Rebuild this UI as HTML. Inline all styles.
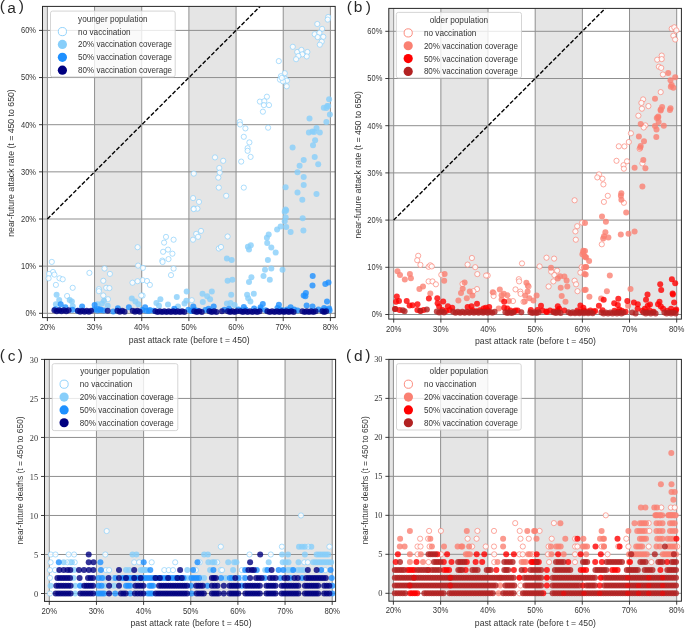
<!DOCTYPE html>
<html><head><meta charset="utf-8"><style>
html,body{margin:0;padding:0;background:#fff;}
svg{display:block;will-change:transform;}
</style></head><body>
<svg width="685" height="628" viewBox="0 0 685 628">
<rect width="685" height="628" fill="#fff"/>
<rect x="42.5" y="6.4" width="4.9" height="307.4" fill="#e5e5e5"/>
<rect x="94.57" y="6.4" width="47.17" height="307.4" fill="#e5e5e5"/>
<rect x="188.9" y="6.4" width="47.17" height="307.4" fill="#e5e5e5"/>
<rect x="283.23" y="6.4" width="47.17" height="307.4" fill="#e5e5e5"/>
<line x1="47.4" y1="6.4" x2="47.4" y2="317.6" stroke="#8f8f8f" stroke-width="1"/>
<line x1="94.57" y1="6.4" x2="94.57" y2="317.6" stroke="#8f8f8f" stroke-width="1"/>
<line x1="141.73" y1="6.4" x2="141.73" y2="317.6" stroke="#8f8f8f" stroke-width="1"/>
<line x1="188.9" y1="6.4" x2="188.9" y2="317.6" stroke="#8f8f8f" stroke-width="1"/>
<line x1="236.07" y1="6.4" x2="236.07" y2="317.6" stroke="#8f8f8f" stroke-width="1"/>
<line x1="283.23" y1="6.4" x2="283.23" y2="317.6" stroke="#8f8f8f" stroke-width="1"/>
<line x1="330.4" y1="6.4" x2="330.4" y2="317.6" stroke="#8f8f8f" stroke-width="1"/>
<line x1="42.5" y1="313.3" x2="335.2" y2="313.3" stroke="#8f8f8f" stroke-width="1"/>
<line x1="42.5" y1="266.15" x2="335.2" y2="266.15" stroke="#8f8f8f" stroke-width="1"/>
<line x1="42.5" y1="219" x2="335.2" y2="219" stroke="#8f8f8f" stroke-width="1"/>
<line x1="42.5" y1="171.85" x2="335.2" y2="171.85" stroke="#8f8f8f" stroke-width="1"/>
<line x1="42.5" y1="124.7" x2="335.2" y2="124.7" stroke="#8f8f8f" stroke-width="1"/>
<line x1="42.5" y1="77.55" x2="335.2" y2="77.55" stroke="#8f8f8f" stroke-width="1"/>
<line x1="42.5" y1="30.4" x2="335.2" y2="30.4" stroke="#8f8f8f" stroke-width="1"/>
<line x1="47.4" y1="219" x2="260.08" y2="6.4" stroke="#000" stroke-width="1.4" stroke-dasharray="4.2 1.9"/>
<g id="ptsa"></g>
<g fill="#fff" fill-opacity="0.85" stroke="#87CEFA" stroke-opacity="0.85" stroke-width="0.8"><circle cx="328.2" cy="17" r="2.6"/><circle cx="327.7" cy="19.6" r="2.6"/><circle cx="317.3" cy="24" r="2.6"/><circle cx="322.1" cy="28.9" r="2.6"/><circle cx="314.7" cy="34.2" r="2.6"/><circle cx="319.4" cy="32.9" r="2.6"/><circle cx="317.7" cy="37.1" r="2.6"/><circle cx="323.3" cy="36.8" r="2.6"/><circle cx="321.7" cy="41.7" r="2.6"/><circle cx="319.8" cy="44.7" r="2.6"/><circle cx="292.8" cy="46.8" r="2.6"/><circle cx="297.2" cy="52" r="2.6"/><circle cx="301.4" cy="49.9" r="2.6"/><circle cx="307.4" cy="52" r="2.6"/><circle cx="306.7" cy="56.4" r="2.6"/><circle cx="302.3" cy="54.3" r="2.6"/><circle cx="298.4" cy="56" r="2.6"/><circle cx="296.1" cy="59.2" r="2.6"/><circle cx="278.8" cy="61.1" r="2.6"/><circle cx="284.8" cy="73.2" r="2.6"/><circle cx="280.9" cy="76.2" r="2.6"/><circle cx="280" cy="79.7" r="2.6"/><circle cx="285.3" cy="78.8" r="2.6"/><circle cx="287" cy="80.6" r="2.6"/><circle cx="283" cy="81.4" r="2.6"/><circle cx="281.8" cy="77.9" r="2.6"/><circle cx="286.7" cy="86.3" r="2.6"/><circle cx="266.9" cy="96.7" r="2.6"/><circle cx="259.9" cy="101.6" r="2.6"/><circle cx="264.3" cy="101.2" r="2.6"/><circle cx="263.9" cy="105.1" r="2.6"/><circle cx="269" cy="105.1" r="2.6"/><circle cx="262.9" cy="111.7" r="2.6"/><circle cx="239.8" cy="121.9" r="2.6"/><circle cx="240.1" cy="124.5" r="2.6"/><circle cx="245.4" cy="128.4" r="2.6"/><circle cx="268.1" cy="127.7" r="2.6"/><circle cx="243.8" cy="136.8" r="2.6"/><circle cx="249.4" cy="142.4" r="2.6"/><circle cx="247.6" cy="148.2" r="2.6"/><circle cx="247.6" cy="150.8" r="2.6"/><circle cx="250.6" cy="156.9" r="2.6"/><circle cx="241.2" cy="161.6" r="2.6"/><circle cx="243.8" cy="187.6" r="2.6"/><circle cx="215" cy="157.4" r="2.6"/><circle cx="223.2" cy="160.8" r="2.6"/><circle cx="219.3" cy="168" r="2.6"/><circle cx="219.7" cy="172.7" r="2.6"/><circle cx="218.3" cy="177.6" r="2.6"/><circle cx="218.8" cy="187.6" r="2.6"/><circle cx="226.2" cy="195.8" r="2.6"/><circle cx="193.8" cy="173.6" r="2.6"/><circle cx="193.1" cy="198.1" r="2.6"/><circle cx="199" cy="201.9" r="2.6"/><circle cx="193.8" cy="208.6" r="2.6"/><circle cx="197.4" cy="208.6" r="2.6"/><circle cx="193.7" cy="209.1" r="2.6"/><circle cx="201" cy="230.9" r="2.6"/><circle cx="196.2" cy="233.9" r="2.6"/><circle cx="198.1" cy="236.8" r="2.6"/><circle cx="193" cy="239.7" r="2.6"/><circle cx="227.6" cy="236.5" r="2.6"/><circle cx="218.8" cy="248.5" r="2.6"/><circle cx="221" cy="247" r="2.6"/><circle cx="166" cy="236.9" r="2.6"/><circle cx="173.6" cy="239.7" r="2.6"/><circle cx="164.1" cy="242.6" r="2.6"/><circle cx="168" cy="249.6" r="2.6"/><circle cx="163.1" cy="251.8" r="2.6"/><circle cx="172.4" cy="253.7" r="2.6"/><circle cx="168.5" cy="259.1" r="2.6"/><circle cx="162.3" cy="260.6" r="2.6"/><circle cx="142.9" cy="267.9" r="2.6"/><circle cx="173.6" cy="268.6" r="2.6"/><circle cx="171" cy="275.1" r="2.6"/><circle cx="142.6" cy="280.2" r="2.6"/><circle cx="147" cy="281" r="2.6"/><circle cx="149.9" cy="284.9" r="2.6"/><circle cx="142.6" cy="295.6" r="2.6"/><circle cx="191.8" cy="300.2" r="2.6"/><circle cx="162.6" cy="262" r="2.6"/><circle cx="51.8" cy="261.9" r="2.6"/><circle cx="53" cy="272" r="2.6"/><circle cx="49" cy="273.9" r="2.6"/><circle cx="54.4" cy="274.6" r="2.6"/><circle cx="48.6" cy="278.3" r="2.6"/><circle cx="59.5" cy="278.3" r="2.6"/><circle cx="62.7" cy="279.3" r="2.6"/><circle cx="55.9" cy="284.9" r="2.6"/><circle cx="72.7" cy="287.8" r="2.6"/><circle cx="89.4" cy="272.9" r="2.6"/><circle cx="104.5" cy="268.5" r="2.6"/><circle cx="109.9" cy="273.9" r="2.6"/><circle cx="103.3" cy="280.8" r="2.6"/><circle cx="106.2" cy="287.8" r="2.6"/><circle cx="109.4" cy="288.1" r="2.6"/><circle cx="98.9" cy="289.2" r="2.6"/><circle cx="137.6" cy="247.2" r="2.6"/><circle cx="138.1" cy="265.6" r="2.6"/><circle cx="132.5" cy="282.7" r="2.6"/><circle cx="137.6" cy="281.2" r="2.6"/><circle cx="67.1" cy="296" r="2.6"/><circle cx="98.9" cy="291.2" r="2.6"/><circle cx="103.3" cy="295.5" r="2.6"/><circle cx="108" cy="299.2" r="2.6"/><circle cx="141.3" cy="295.5" r="2.6"/></g>
<g fill="#87CEFA" fill-opacity="0.8"><circle cx="329.1" cy="99.3" r="3.0"/><circle cx="327.3" cy="106" r="3.0"/><circle cx="323.8" cy="107.7" r="3.0"/><circle cx="328.2" cy="106.1" r="3.0"/><circle cx="326.4" cy="107.9" r="3.0"/><circle cx="329.9" cy="114.5" r="3.0"/><circle cx="309.5" cy="118.4" r="3.0"/><circle cx="326.4" cy="121.9" r="3.0"/><circle cx="316.5" cy="128" r="3.0"/><circle cx="308.9" cy="132.4" r="3.0"/><circle cx="312.4" cy="131.5" r="3.0"/><circle cx="314.2" cy="131.9" r="3.0"/><circle cx="319.8" cy="132.4" r="3.0"/><circle cx="315.1" cy="140.3" r="3.0"/><circle cx="313" cy="145.2" r="3.0"/><circle cx="292.6" cy="147.6" r="3.0"/><circle cx="314.7" cy="156.9" r="3.0"/><circle cx="303.7" cy="160.1" r="3.0"/><circle cx="299.6" cy="165.7" r="3.0"/><circle cx="318.2" cy="164.3" r="3.0"/><circle cx="297.5" cy="172.3" r="3.0"/><circle cx="303.7" cy="177.1" r="3.0"/><circle cx="303.7" cy="185.1" r="3.0"/><circle cx="285.6" cy="187.2" r="3.0"/><circle cx="297.5" cy="192.5" r="3.0"/><circle cx="316.5" cy="194" r="3.0"/><circle cx="302.3" cy="199.8" r="3.0"/><circle cx="285.6" cy="209.5" r="3.0"/><circle cx="286.2" cy="210.5" r="3.0"/><circle cx="284.7" cy="211.7" r="3.0"/><circle cx="285.7" cy="217.5" r="3.0"/><circle cx="284.7" cy="221.2" r="3.0"/><circle cx="302.7" cy="218.2" r="3.0"/><circle cx="280.6" cy="226.6" r="3.0"/><circle cx="277.1" cy="229.5" r="3.0"/><circle cx="286.2" cy="227" r="3.0"/><circle cx="290.6" cy="232.1" r="3.0"/><circle cx="303.4" cy="230.4" r="3.0"/><circle cx="268.7" cy="234.6" r="3.0"/><circle cx="266.9" cy="237.7" r="3.0"/><circle cx="267.2" cy="243.1" r="3.0"/><circle cx="271.3" cy="247.4" r="3.0"/><circle cx="275.7" cy="252.6" r="3.0"/><circle cx="267.9" cy="260.1" r="3.0"/><circle cx="250.8" cy="245.3" r="3.0"/><circle cx="247.9" cy="246.7" r="3.0"/><circle cx="249" cy="249.6" r="3.0"/><circle cx="265" cy="269.8" r="3.0"/><circle cx="271.3" cy="268.6" r="3.0"/><circle cx="282.5" cy="269.8" r="3.0"/><circle cx="251.4" cy="277.3" r="3.0"/><circle cx="249" cy="282.1" r="3.0"/><circle cx="263.5" cy="275.9" r="3.0"/><circle cx="269.8" cy="279.8" r="3.0"/><circle cx="253.8" cy="293.8" r="3.0"/><circle cx="247.1" cy="294.8" r="3.0"/><circle cx="248.2" cy="298.2" r="3.0"/><circle cx="250.4" cy="301.4" r="3.0"/><circle cx="226.9" cy="258.4" r="3.0"/><circle cx="231.7" cy="259.9" r="3.0"/><circle cx="227.6" cy="280.7" r="3.0"/><circle cx="232.4" cy="279.8" r="3.0"/><circle cx="186.7" cy="291.6" r="3.0"/><circle cx="202.5" cy="293.8" r="3.0"/><circle cx="211.8" cy="291.5" r="3.0"/><circle cx="207.2" cy="296.3" r="3.0"/><circle cx="210.1" cy="299.2" r="3.0"/><circle cx="202.8" cy="302.1" r="3.0"/><circle cx="231.2" cy="294.8" r="3.0"/><circle cx="176.8" cy="297" r="3.0"/><circle cx="160.4" cy="299.2" r="3.0"/><circle cx="156.4" cy="302.9" r="3.0"/><circle cx="168" cy="304.6" r="3.0"/><circle cx="186.4" cy="300.7" r="3.0"/><circle cx="184.5" cy="303.6" r="3.0"/><circle cx="226.9" cy="303.6" r="3.0"/><circle cx="230.5" cy="302.9" r="3.0"/><circle cx="234.6" cy="305.1" r="3.0"/><circle cx="159" cy="305.8" r="3.0"/><circle cx="178" cy="306.5" r="3.0"/><circle cx="56.6" cy="294.8" r="3.0"/><circle cx="59.2" cy="299.9" r="3.0"/><circle cx="55.9" cy="304.3" r="3.0"/><circle cx="69.7" cy="299.9" r="3.0"/><circle cx="71.9" cy="301.4" r="3.0"/><circle cx="72.7" cy="306.2" r="3.0"/><circle cx="131.8" cy="298.5" r="3.0"/><circle cx="135.4" cy="301.4" r="3.0"/><circle cx="138.4" cy="304.3" r="3.0"/><circle cx="104" cy="300.7" r="3.0"/><circle cx="101.9" cy="303.6" r="3.0"/><circle cx="97.5" cy="304.3" r="3.0"/><circle cx="107.7" cy="305.8" r="3.0"/></g>
<g fill="#1E90FF" fill-opacity="0.8"><circle cx="55.4" cy="309.35" r="3.0"/><circle cx="59.6" cy="310.25" r="3.0"/><circle cx="72.4" cy="309.85" r="3.0"/><circle cx="77.6" cy="310.75" r="3.0"/><circle cx="94.4" cy="309.55" r="3.0"/><circle cx="97.47" cy="310.45" r="3.0"/><circle cx="100.53" cy="309.55" r="3.0"/><circle cx="103.6" cy="310.45" r="3.0"/><circle cx="142.4" cy="309.95" r="3.0"/><circle cx="146.13" cy="310.85" r="3.0"/><circle cx="149.87" cy="309.95" r="3.0"/><circle cx="153.6" cy="310.85" r="3.0"/><circle cx="188.4" cy="309.75" r="3.0"/><circle cx="191.47" cy="310.65" r="3.0"/><circle cx="194.53" cy="309.75" r="3.0"/><circle cx="197.6" cy="310.65" r="3.0"/><circle cx="205.4" cy="309.95" r="3.0"/><circle cx="209.6" cy="310.85" r="3.0"/><circle cx="224.4" cy="309.75" r="3.0"/><circle cx="229.6" cy="310.65" r="3.0"/><circle cx="238.4" cy="309.55" r="3.0"/><circle cx="242" cy="310.45" r="3.0"/><circle cx="245.6" cy="309.55" r="3.0"/><circle cx="260.4" cy="309.35" r="3.0"/><circle cx="265.6" cy="310.25" r="3.0"/><circle cx="280.4" cy="309.55" r="3.0"/><circle cx="283.84" cy="310.45" r="3.0"/><circle cx="287.28" cy="309.55" r="3.0"/><circle cx="290.72" cy="310.45" r="3.0"/><circle cx="294.16" cy="309.55" r="3.0"/><circle cx="297.6" cy="310.45" r="3.0"/><circle cx="318.4" cy="309.55" r="3.0"/><circle cx="322.13" cy="310.45" r="3.0"/><circle cx="325.87" cy="309.55" r="3.0"/><circle cx="329.6" cy="310.45" r="3.0"/><circle cx="312.7" cy="275.9" r="3.0"/><circle cx="312.5" cy="285.6" r="3.0"/><circle cx="325.3" cy="283.9" r="3.0"/><circle cx="328.5" cy="282.4" r="3.0"/><circle cx="305.9" cy="292.9" r="3.0"/><circle cx="303.7" cy="295.6" r="3.0"/><circle cx="305.4" cy="296.3" r="3.0"/><circle cx="327" cy="301.4" r="3.0"/><circle cx="243.8" cy="307" r="3.0"/><circle cx="262.8" cy="304" r="3.0"/><circle cx="278.9" cy="304.8" r="3.0"/><circle cx="306.6" cy="305.5" r="3.0"/><circle cx="290.6" cy="307.3" r="3.0"/><circle cx="312.5" cy="306.5" r="3.0"/><circle cx="329.2" cy="308.4" r="3.0"/><circle cx="324.1" cy="308" r="3.0"/><circle cx="260.6" cy="307.3" r="3.0"/><circle cx="254.1" cy="308.4" r="3.0"/><circle cx="277.4" cy="308" r="3.0"/><circle cx="145.1" cy="307.3" r="3.0"/><circle cx="148.8" cy="310.9" r="3.0"/><circle cx="191.1" cy="310.9" r="3.0"/><circle cx="193.3" cy="306.5" r="3.0"/><circle cx="213.7" cy="306.5" r="3.0"/><circle cx="208.6" cy="308.7" r="3.0"/><circle cx="174.3" cy="308.7" r="3.0"/><circle cx="229" cy="308.7" r="3.0"/><circle cx="60.7" cy="304.3" r="3.0"/><circle cx="65.4" cy="307.2" r="3.0"/><circle cx="82.1" cy="306.5" r="3.0"/><circle cx="94.6" cy="305" r="3.0"/><circle cx="98.2" cy="309.1" r="3.0"/><circle cx="100.4" cy="310.1" r="3.0"/><circle cx="117.9" cy="308.2" r="3.0"/><circle cx="128.9" cy="307.2" r="3.0"/><circle cx="113.2" cy="311.6" r="3.0"/></g>
<g fill="#000080" fill-opacity="0.8"><circle cx="54.4" cy="310.35" r="3.0"/><circle cx="56.77" cy="311.25" r="3.0"/><circle cx="59.13" cy="310.35" r="3.0"/><circle cx="61.5" cy="311.25" r="3.0"/><circle cx="63.87" cy="310.35" r="3.0"/><circle cx="66.23" cy="311.25" r="3.0"/><circle cx="68.6" cy="310.35" r="3.0"/><circle cx="77.9" cy="310.85" r="3.0"/><circle cx="80.1" cy="311.75" r="3.0"/><circle cx="82.3" cy="310.85" r="3.0"/><circle cx="84.5" cy="311.75" r="3.0"/><circle cx="86.7" cy="310.85" r="3.0"/><circle cx="88.9" cy="311.75" r="3.0"/><circle cx="91.1" cy="310.85" r="3.0"/><circle cx="107.7" cy="310.85" r="3.0"/><circle cx="117.4" cy="310.85" r="3.0"/><circle cx="119.8" cy="311.75" r="3.0"/><circle cx="122.2" cy="310.85" r="3.0"/><circle cx="124.6" cy="311.75" r="3.0"/><circle cx="132.7" cy="310.85" r="3.0"/><circle cx="135" cy="311.75" r="3.0"/><circle cx="137.3" cy="310.85" r="3.0"/><circle cx="139.6" cy="311.75" r="3.0"/><circle cx="155.4" cy="311.15" r="3.0"/><circle cx="157.62" cy="312.05" r="3.0"/><circle cx="159.85" cy="311.15" r="3.0"/><circle cx="162.07" cy="312.05" r="3.0"/><circle cx="164.29" cy="311.15" r="3.0"/><circle cx="166.52" cy="312.05" r="3.0"/><circle cx="168.74" cy="311.15" r="3.0"/><circle cx="170.96" cy="312.05" r="3.0"/><circle cx="173.18" cy="311.15" r="3.0"/><circle cx="175.41" cy="312.05" r="3.0"/><circle cx="177.63" cy="311.15" r="3.0"/><circle cx="179.85" cy="312.05" r="3.0"/><circle cx="182.08" cy="311.15" r="3.0"/><circle cx="184.3" cy="312.05" r="3.0"/><circle cx="194.2" cy="311.15" r="3.0"/><circle cx="196.73" cy="312.05" r="3.0"/><circle cx="199.27" cy="311.15" r="3.0"/><circle cx="201.8" cy="312.05" r="3.0"/><circle cx="209.4" cy="311.15" r="3.0"/><circle cx="211.73" cy="312.05" r="3.0"/><circle cx="214.07" cy="311.15" r="3.0"/><circle cx="216.4" cy="312.05" r="3.0"/><circle cx="222" cy="311.15" r="3.0"/><circle cx="227.8" cy="311.15" r="3.0"/><circle cx="230.08" cy="312.05" r="3.0"/><circle cx="232.35" cy="311.15" r="3.0"/><circle cx="234.62" cy="312.05" r="3.0"/><circle cx="236.9" cy="311.15" r="3.0"/><circle cx="240.4" cy="311.15" r="3.0"/><circle cx="242.8" cy="312.05" r="3.0"/><circle cx="245.2" cy="311.15" r="3.0"/><circle cx="247.6" cy="312.05" r="3.0"/><circle cx="250" cy="311.15" r="3.0"/><circle cx="252.4" cy="312.05" r="3.0"/><circle cx="254.8" cy="311.15" r="3.0"/><circle cx="257.2" cy="312.05" r="3.0"/><circle cx="259.6" cy="311.15" r="3.0"/><circle cx="267.4" cy="311.15" r="3.0"/><circle cx="269.78" cy="312.05" r="3.0"/><circle cx="272.16" cy="311.15" r="3.0"/><circle cx="274.55" cy="312.05" r="3.0"/><circle cx="276.93" cy="311.15" r="3.0"/><circle cx="279.31" cy="312.05" r="3.0"/><circle cx="281.69" cy="311.15" r="3.0"/><circle cx="284.07" cy="312.05" r="3.0"/><circle cx="286.45" cy="311.15" r="3.0"/><circle cx="288.84" cy="312.05" r="3.0"/><circle cx="291.22" cy="311.15" r="3.0"/><circle cx="293.6" cy="312.05" r="3.0"/><circle cx="302.4" cy="311.15" r="3.0"/><circle cx="304.6" cy="312.05" r="3.0"/><circle cx="306.8" cy="311.15" r="3.0"/><circle cx="309" cy="312.05" r="3.0"/><circle cx="311.2" cy="311.15" r="3.0"/><circle cx="313.4" cy="312.05" r="3.0"/><circle cx="315.6" cy="311.15" r="3.0"/><circle cx="322.4" cy="311.15" r="3.0"/><circle cx="324.25" cy="312.05" r="3.0"/><circle cx="326.1" cy="311.15" r="3.0"/></g>
<rect x="42.5" y="6.4" width="292.7" height="311.2" fill="none" stroke="#262626" stroke-width="1"/>
<line x1="47.4" y1="317.6" x2="47.4" y2="321.1" stroke="#262626" stroke-width="0.9"/>
<text x="47.4" y="330.2" font-size="9.0" text-anchor="middle" font-family='"Liberation Sans", sans-serif' fill="#000" fill-opacity="0.82" textLength="15.5" lengthAdjust="spacingAndGlyphs">20%</text>
<line x1="94.57" y1="317.6" x2="94.57" y2="321.1" stroke="#262626" stroke-width="0.9"/>
<text x="94.57" y="330.2" font-size="9.0" text-anchor="middle" font-family='"Liberation Sans", sans-serif' fill="#000" fill-opacity="0.82" textLength="15.5" lengthAdjust="spacingAndGlyphs">30%</text>
<line x1="141.73" y1="317.6" x2="141.73" y2="321.1" stroke="#262626" stroke-width="0.9"/>
<text x="141.73" y="330.2" font-size="9.0" text-anchor="middle" font-family='"Liberation Sans", sans-serif' fill="#000" fill-opacity="0.82" textLength="15.5" lengthAdjust="spacingAndGlyphs">40%</text>
<line x1="188.9" y1="317.6" x2="188.9" y2="321.1" stroke="#262626" stroke-width="0.9"/>
<text x="188.9" y="330.2" font-size="9.0" text-anchor="middle" font-family='"Liberation Sans", sans-serif' fill="#000" fill-opacity="0.82" textLength="15.5" lengthAdjust="spacingAndGlyphs">50%</text>
<line x1="236.07" y1="317.6" x2="236.07" y2="321.1" stroke="#262626" stroke-width="0.9"/>
<text x="236.07" y="330.2" font-size="9.0" text-anchor="middle" font-family='"Liberation Sans", sans-serif' fill="#000" fill-opacity="0.82" textLength="15.5" lengthAdjust="spacingAndGlyphs">60%</text>
<line x1="283.23" y1="317.6" x2="283.23" y2="321.1" stroke="#262626" stroke-width="0.9"/>
<text x="283.23" y="330.2" font-size="9.0" text-anchor="middle" font-family='"Liberation Sans", sans-serif' fill="#000" fill-opacity="0.82" textLength="15.5" lengthAdjust="spacingAndGlyphs">70%</text>
<line x1="330.4" y1="317.6" x2="330.4" y2="321.1" stroke="#262626" stroke-width="0.9"/>
<text x="330.4" y="330.2" font-size="9.0" text-anchor="middle" font-family='"Liberation Sans", sans-serif' fill="#000" fill-opacity="0.82" textLength="15.5" lengthAdjust="spacingAndGlyphs">80%</text>
<line x1="39" y1="313.3" x2="42.5" y2="313.3" stroke="#262626" stroke-width="0.9"/>
<text x="36" y="316.2" font-size="9.1" text-anchor="end" font-family='"Liberation Sans", sans-serif' fill="#000" fill-opacity="0.82" textLength="10.6" lengthAdjust="spacingAndGlyphs">0%</text>
<line x1="39" y1="266.15" x2="42.5" y2="266.15" stroke="#262626" stroke-width="0.9"/>
<text x="36" y="269.05" font-size="9.1" text-anchor="end" font-family='"Liberation Sans", sans-serif' fill="#000" fill-opacity="0.82" textLength="15" lengthAdjust="spacingAndGlyphs">10%</text>
<line x1="39" y1="219" x2="42.5" y2="219" stroke="#262626" stroke-width="0.9"/>
<text x="36" y="221.9" font-size="9.1" text-anchor="end" font-family='"Liberation Sans", sans-serif' fill="#000" fill-opacity="0.82" textLength="15" lengthAdjust="spacingAndGlyphs">20%</text>
<line x1="39" y1="171.85" x2="42.5" y2="171.85" stroke="#262626" stroke-width="0.9"/>
<text x="36" y="174.75" font-size="9.1" text-anchor="end" font-family='"Liberation Sans", sans-serif' fill="#000" fill-opacity="0.82" textLength="15" lengthAdjust="spacingAndGlyphs">30%</text>
<line x1="39" y1="124.7" x2="42.5" y2="124.7" stroke="#262626" stroke-width="0.9"/>
<text x="36" y="127.6" font-size="9.1" text-anchor="end" font-family='"Liberation Sans", sans-serif' fill="#000" fill-opacity="0.82" textLength="15" lengthAdjust="spacingAndGlyphs">40%</text>
<line x1="39" y1="77.55" x2="42.5" y2="77.55" stroke="#262626" stroke-width="0.9"/>
<text x="36" y="80.45" font-size="9.1" text-anchor="end" font-family='"Liberation Sans", sans-serif' fill="#000" fill-opacity="0.82" textLength="15" lengthAdjust="spacingAndGlyphs">50%</text>
<line x1="39" y1="30.4" x2="42.5" y2="30.4" stroke="#262626" stroke-width="0.9"/>
<text x="36" y="33.3" font-size="9.1" text-anchor="end" font-family='"Liberation Sans", sans-serif' fill="#000" fill-opacity="0.82" textLength="15" lengthAdjust="spacingAndGlyphs">60%</text>
<text x="189.2" y="342.7" font-size="8.6" text-anchor="middle" font-family='"Liberation Sans", sans-serif' fill="#000" fill-opacity="0.82" textLength="121" lengthAdjust="spacingAndGlyphs">past attack rate (before t = 450)</text>
<text transform="translate(14.3,163) rotate(-90)" x="0" y="0" font-size="8.6" text-anchor="middle" font-family='"Liberation Sans", sans-serif' fill="#000" fill-opacity="0.82" textLength="147.5" lengthAdjust="spacingAndGlyphs">near-future attack rate (t = 450 to 650)</text>
<text x="-0.33" y="11.4" font-size="15.5" font-family='"Liberation Sans", sans-serif' fill="#000" fill-opacity="0.85">(</text>
<text x="7.28" y="12.6" font-size="15.5" font-family='"Liberation Sans", sans-serif' fill="#000" fill-opacity="0.85">a</text>
<text x="18.85" y="11.4" font-size="15.5" font-family='"Liberation Sans", sans-serif' fill="#000" fill-opacity="0.85">)</text>
<rect x="50.5" y="11.1" width="124.7" height="65.8" rx="2" fill="#fff" fill-opacity="0.8" stroke="#d0d0d0" stroke-width="0.9"/>
<text x="112.85" y="21.7" font-size="8.4" text-anchor="middle" font-family='"Liberation Sans", sans-serif' fill="#000" fill-opacity="0.82" textLength="69.5" lengthAdjust="spacingAndGlyphs">younger population</text>
<circle cx="62.4" cy="31.6" r="4.1" fill="#fff" stroke="#87CEFA" stroke-width="0.9"/>
<text x="78.1" y="34.6" font-size="8.6" text-anchor="start" font-family='"Liberation Sans", sans-serif' fill="#000" fill-opacity="0.82" textLength="52.5" lengthAdjust="spacingAndGlyphs">no vaccination</text>
<circle cx="62.4" cy="44.45" r="4.6" fill="#87CEFA"/>
<text x="78.1" y="47.45" font-size="8.6" text-anchor="start" font-family='"Liberation Sans", sans-serif' fill="#000" fill-opacity="0.82" textLength="94" lengthAdjust="spacingAndGlyphs">20% vaccination coverage</text>
<circle cx="62.4" cy="57.3" r="4.6" fill="#1E90FF"/>
<text x="78.1" y="60.3" font-size="8.6" text-anchor="start" font-family='"Liberation Sans", sans-serif' fill="#000" fill-opacity="0.82" textLength="94" lengthAdjust="spacingAndGlyphs">50% vaccination coverage</text>
<circle cx="62.4" cy="70.15" r="4.6" fill="#000080"/>
<text x="78.1" y="73.15" font-size="8.6" text-anchor="start" font-family='"Liberation Sans", sans-serif' fill="#000" fill-opacity="0.82" textLength="94" lengthAdjust="spacingAndGlyphs">80% vaccination coverage</text>
<rect x="388.8" y="8.4" width="4.9" height="306.6" fill="#e5e5e5"/>
<rect x="440.87" y="8.4" width="47.17" height="306.6" fill="#e5e5e5"/>
<rect x="535.2" y="8.4" width="47.17" height="306.6" fill="#e5e5e5"/>
<rect x="629.53" y="8.4" width="47.17" height="306.6" fill="#e5e5e5"/>
<line x1="393.7" y1="8.4" x2="393.7" y2="319.1" stroke="#8f8f8f" stroke-width="1"/>
<line x1="440.87" y1="8.4" x2="440.87" y2="319.1" stroke="#8f8f8f" stroke-width="1"/>
<line x1="488.03" y1="8.4" x2="488.03" y2="319.1" stroke="#8f8f8f" stroke-width="1"/>
<line x1="535.2" y1="8.4" x2="535.2" y2="319.1" stroke="#8f8f8f" stroke-width="1"/>
<line x1="582.37" y1="8.4" x2="582.37" y2="319.1" stroke="#8f8f8f" stroke-width="1"/>
<line x1="629.53" y1="8.4" x2="629.53" y2="319.1" stroke="#8f8f8f" stroke-width="1"/>
<line x1="676.7" y1="8.4" x2="676.7" y2="319.1" stroke="#8f8f8f" stroke-width="1"/>
<line x1="388.8" y1="314.5" x2="681.4" y2="314.5" stroke="#8f8f8f" stroke-width="1"/>
<line x1="388.8" y1="267.3" x2="681.4" y2="267.3" stroke="#8f8f8f" stroke-width="1"/>
<line x1="388.8" y1="220.1" x2="681.4" y2="220.1" stroke="#8f8f8f" stroke-width="1"/>
<line x1="388.8" y1="172.9" x2="681.4" y2="172.9" stroke="#8f8f8f" stroke-width="1"/>
<line x1="388.8" y1="125.7" x2="681.4" y2="125.7" stroke="#8f8f8f" stroke-width="1"/>
<line x1="388.8" y1="78.5" x2="681.4" y2="78.5" stroke="#8f8f8f" stroke-width="1"/>
<line x1="388.8" y1="31.3" x2="681.4" y2="31.3" stroke="#8f8f8f" stroke-width="1"/>
<line x1="393.7" y1="220.1" x2="605.25" y2="8.4" stroke="#000" stroke-width="1.4" stroke-dasharray="4.2 1.9"/>
<g id="ptsb"></g>
<g fill="#fff" fill-opacity="0.85" stroke="#FA8072" stroke-opacity="0.85" stroke-width="0.8"><circle cx="671.7" cy="28.7" r="2.6"/><circle cx="674.3" cy="27.3" r="2.6"/><circle cx="676.4" cy="30.4" r="2.6"/><circle cx="673.4" cy="35.7" r="2.6"/><circle cx="675.2" cy="39.5" r="2.6"/><circle cx="661.7" cy="55.6" r="2.6"/><circle cx="657.2" cy="59.7" r="2.6"/><circle cx="661.7" cy="59.1" r="2.6"/><circle cx="658.9" cy="66.7" r="2.6"/><circle cx="661.2" cy="67.9" r="2.6"/><circle cx="662.9" cy="74.5" r="2.6"/><circle cx="660.7" cy="92.1" r="2.6"/><circle cx="643.1" cy="99.4" r="2.6"/><circle cx="641.4" cy="102.9" r="2.6"/><circle cx="648.4" cy="106.1" r="2.6"/><circle cx="641.9" cy="108.7" r="2.6"/><circle cx="638.4" cy="115.7" r="2.6"/><circle cx="645.4" cy="125.4" r="2.6"/><circle cx="643.7" cy="127.5" r="2.6"/><circle cx="630.9" cy="133.3" r="2.6"/><circle cx="628.8" cy="142" r="2.6"/><circle cx="624.4" cy="146.4" r="2.6"/><circle cx="618.8" cy="146.3" r="2.6"/><circle cx="616.5" cy="160.8" r="2.6"/><circle cx="627" cy="161.3" r="2.6"/><circle cx="623.5" cy="165.2" r="2.6"/><circle cx="623.9" cy="168.7" r="2.6"/><circle cx="639.6" cy="148.9" r="2.6"/><circle cx="642.4" cy="163.4" r="2.6"/><circle cx="599" cy="174.4" r="2.6"/><circle cx="597.3" cy="177.4" r="2.6"/><circle cx="602.5" cy="178.7" r="2.6"/><circle cx="603.4" cy="184.4" r="2.6"/><circle cx="607.8" cy="195.8" r="2.6"/><circle cx="603.9" cy="201.9" r="2.6"/><circle cx="623.9" cy="202.8" r="2.6"/><circle cx="601.8" cy="244.3" r="2.6"/><circle cx="574.6" cy="200.3" r="2.6"/><circle cx="582.1" cy="222.7" r="2.6"/><circle cx="577.2" cy="226.2" r="2.6"/><circle cx="575.4" cy="231.4" r="2.6"/><circle cx="575.8" cy="239.7" r="2.6"/><circle cx="546.5" cy="257.7" r="2.6"/><circle cx="554.1" cy="258.6" r="2.6"/><circle cx="522" cy="263.4" r="2.6"/><circle cx="539.6" cy="266.4" r="2.6"/><circle cx="557.1" cy="270.7" r="2.6"/><circle cx="551.2" cy="271.6" r="2.6"/><circle cx="554.4" cy="275.1" r="2.6"/><circle cx="553.4" cy="281.4" r="2.6"/><circle cx="548.6" cy="286.5" r="2.6"/><circle cx="574.6" cy="280.7" r="2.6"/><circle cx="576.1" cy="284.3" r="2.6"/><circle cx="577.5" cy="291.2" r="2.6"/><circle cx="580.4" cy="272.6" r="2.6"/><circle cx="581.6" cy="267.2" r="2.6"/><circle cx="487.7" cy="275.5" r="2.6"/><circle cx="518.8" cy="279.2" r="2.6"/><circle cx="519.1" cy="281.4" r="2.6"/><circle cx="515.5" cy="289.4" r="2.6"/><circle cx="520.3" cy="291.6" r="2.6"/><circle cx="520.6" cy="293.8" r="2.6"/><circle cx="528.6" cy="286.5" r="2.6"/><circle cx="513" cy="301.1" r="2.6"/><circle cx="523.5" cy="301.8" r="2.6"/><circle cx="493.6" cy="293.1" r="2.6"/><circle cx="493.6" cy="296" r="2.6"/><circle cx="418.2" cy="255.8" r="2.6"/><circle cx="417.2" cy="260.2" r="2.6"/><circle cx="420.4" cy="264.9" r="2.6"/><circle cx="428.6" cy="266.8" r="2.6"/><circle cx="430.3" cy="265.3" r="2.6"/><circle cx="431.8" cy="266.4" r="2.6"/><circle cx="441.3" cy="274.8" r="2.6"/><circle cx="428.6" cy="281.4" r="2.6"/><circle cx="432.5" cy="281.4" r="2.6"/><circle cx="435.9" cy="284.3" r="2.6"/><circle cx="471.9" cy="258" r="2.6"/><circle cx="467.6" cy="264.6" r="2.6"/><circle cx="475.2" cy="267.2" r="2.6"/><circle cx="477.3" cy="274.1" r="2.6"/><circle cx="486.1" cy="275.5" r="2.6"/><circle cx="462.5" cy="283.9" r="2.6"/><circle cx="477" cy="289.1" r="2.6"/><circle cx="473.4" cy="291.2" r="2.6"/></g>
<g fill="#FA8072" fill-opacity="0.8"><circle cx="668.2" cy="73.1" r="3.0"/><circle cx="675.2" cy="77.2" r="3.0"/><circle cx="670.5" cy="80.2" r="3.0"/><circle cx="671.7" cy="85.1" r="3.0"/><circle cx="673.4" cy="87.7" r="3.0"/><circle cx="670.8" cy="86.8" r="3.0"/><circle cx="655" cy="98.7" r="3.0"/><circle cx="662.1" cy="107" r="3.0"/><circle cx="660.7" cy="109.6" r="3.0"/><circle cx="670.5" cy="108.2" r="3.0"/><circle cx="658.2" cy="116.6" r="3.0"/><circle cx="660.7" cy="110.5" r="3.0"/><circle cx="669.9" cy="110" r="3.0"/><circle cx="658.2" cy="117.4" r="3.0"/><circle cx="656.8" cy="117.9" r="3.0"/><circle cx="658.6" cy="121.9" r="3.0"/><circle cx="663.8" cy="125.8" r="3.0"/><circle cx="640.7" cy="124" r="3.0"/><circle cx="655" cy="126.1" r="3.0"/><circle cx="656.5" cy="129.6" r="3.0"/><circle cx="656.3" cy="137.1" r="3.0"/><circle cx="638.9" cy="136.6" r="3.0"/><circle cx="644" cy="141.2" r="3.0"/><circle cx="640.7" cy="145.9" r="3.0"/><circle cx="640.2" cy="147.7" r="3.0"/><circle cx="643.3" cy="159.9" r="3.0"/><circle cx="634.6" cy="167.8" r="3.0"/><circle cx="645.4" cy="168.3" r="3.0"/><circle cx="642.4" cy="186.5" r="3.0"/><circle cx="621.3" cy="193.2" r="3.0"/><circle cx="620.9" cy="195.8" r="3.0"/><circle cx="621.4" cy="199.7" r="3.0"/><circle cx="626.2" cy="212.5" r="3.0"/><circle cx="602" cy="216.5" r="3.0"/><circle cx="605.9" cy="221.7" r="3.0"/><circle cx="605.4" cy="232.2" r="3.0"/><circle cx="604" cy="236.3" r="3.0"/><circle cx="608.4" cy="237.4" r="3.0"/><circle cx="603.2" cy="238.5" r="3.0"/><circle cx="620.8" cy="234.4" r="3.0"/><circle cx="628.5" cy="233.8" r="3.0"/><circle cx="634.6" cy="231.6" r="3.0"/><circle cx="585" cy="223.1" r="3.0"/><circle cx="585" cy="250.9" r="3.0"/><circle cx="586.2" cy="257.4" r="3.0"/><circle cx="589.1" cy="261.1" r="3.0"/><circle cx="585.7" cy="266.9" r="3.0"/><circle cx="609.8" cy="275.6" r="3.0"/><circle cx="606.9" cy="291.2" r="3.0"/><circle cx="630.5" cy="289" r="3.0"/><circle cx="589.4" cy="296.7" r="3.0"/><circle cx="585.7" cy="289.7" r="3.0"/><circle cx="585.7" cy="274.4" r="3.0"/><circle cx="586.2" cy="267.1" r="3.0"/><circle cx="601.1" cy="298.5" r="3.0"/><circle cx="628.1" cy="305.8" r="3.0"/><circle cx="583.3" cy="250.7" r="3.0"/><circle cx="582.4" cy="254.2" r="3.0"/><circle cx="585.1" cy="256.8" r="3.0"/><circle cx="583.4" cy="252.2" r="3.0"/><circle cx="584.8" cy="256.6" r="3.0"/><circle cx="584.1" cy="267.5" r="3.0"/><circle cx="584.5" cy="274.1" r="3.0"/><circle cx="584.5" cy="290.1" r="3.0"/><circle cx="551" cy="267.8" r="3.0"/><circle cx="560" cy="276.3" r="3.0"/><circle cx="564.4" cy="276.6" r="3.0"/><circle cx="557.8" cy="278.5" r="3.0"/><circle cx="566.6" cy="280.4" r="3.0"/><circle cx="560.7" cy="287.7" r="3.0"/><circle cx="567.3" cy="286.5" r="3.0"/><circle cx="561.7" cy="296" r="3.0"/><circle cx="565.5" cy="301.8" r="3.0"/><circle cx="526.4" cy="282.8" r="3.0"/><circle cx="527.9" cy="285.8" r="3.0"/><circle cx="527.6" cy="291.6" r="3.0"/><circle cx="525.2" cy="295.5" r="3.0"/><circle cx="529.3" cy="298.2" r="3.0"/><circle cx="533.4" cy="300.4" r="3.0"/><circle cx="536.6" cy="295.5" r="3.0"/><circle cx="499.8" cy="289.4" r="3.0"/><circle cx="492.8" cy="292.3" r="3.0"/><circle cx="501.6" cy="295.3" r="3.0"/><circle cx="503.8" cy="293.8" r="3.0"/><circle cx="507.4" cy="295.3" r="3.0"/><circle cx="501.6" cy="299.6" r="3.0"/><circle cx="508.9" cy="301.1" r="3.0"/><circle cx="498.7" cy="308.4" r="3.0"/><circle cx="524.7" cy="301.4" r="3.0"/><circle cx="397.5" cy="271.2" r="3.0"/><circle cx="400" cy="275.1" r="3.0"/><circle cx="404.8" cy="279.6" r="3.0"/><circle cx="409.9" cy="274.1" r="3.0"/><circle cx="410.9" cy="278.2" r="3.0"/><circle cx="419.4" cy="289.1" r="3.0"/><circle cx="423" cy="286.5" r="3.0"/><circle cx="430.3" cy="293.5" r="3.0"/><circle cx="444.6" cy="274.1" r="3.0"/><circle cx="444.2" cy="280.7" r="3.0"/><circle cx="464.6" cy="282.4" r="3.0"/><circle cx="462.7" cy="288.7" r="3.0"/><circle cx="461" cy="293.1" r="3.0"/><circle cx="458.4" cy="300.4" r="3.0"/><circle cx="466.8" cy="298.2" r="3.0"/><circle cx="469.8" cy="291.6" r="3.0"/><circle cx="472.4" cy="295.5" r="3.0"/></g>
<g fill="#FF0000" fill-opacity="0.8"><circle cx="395.4" cy="309.05" r="3.0"/><circle cx="399.6" cy="309.95" r="3.0"/><circle cx="417.4" cy="310.05" r="3.0"/><circle cx="420.5" cy="310.95" r="3.0"/><circle cx="423.6" cy="310.05" r="3.0"/><circle cx="442.4" cy="310.05" r="3.0"/><circle cx="446" cy="310.95" r="3.0"/><circle cx="449.6" cy="310.05" r="3.0"/><circle cx="472.4" cy="310.35" r="3.0"/><circle cx="476.2" cy="311.25" r="3.0"/><circle cx="480" cy="310.35" r="3.0"/><circle cx="483.8" cy="311.25" r="3.0"/><circle cx="487.6" cy="310.35" r="3.0"/><circle cx="510.4" cy="310.55" r="3.0"/><circle cx="514" cy="311.45" r="3.0"/><circle cx="517.6" cy="310.55" r="3.0"/><circle cx="542.4" cy="310.55" r="3.0"/><circle cx="546.2" cy="311.45" r="3.0"/><circle cx="550" cy="310.55" r="3.0"/><circle cx="553.8" cy="311.45" r="3.0"/><circle cx="557.6" cy="310.55" r="3.0"/><circle cx="577.4" cy="310.55" r="3.0"/><circle cx="580.64" cy="311.45" r="3.0"/><circle cx="583.88" cy="310.55" r="3.0"/><circle cx="587.12" cy="311.45" r="3.0"/><circle cx="590.36" cy="310.55" r="3.0"/><circle cx="593.6" cy="311.45" r="3.0"/><circle cx="614.4" cy="310.85" r="3.0"/><circle cx="618.13" cy="311.75" r="3.0"/><circle cx="621.87" cy="310.85" r="3.0"/><circle cx="625.6" cy="311.75" r="3.0"/><circle cx="642.4" cy="310.85" r="3.0"/><circle cx="646.13" cy="311.75" r="3.0"/><circle cx="649.87" cy="310.85" r="3.0"/><circle cx="653.6" cy="311.75" r="3.0"/><circle cx="667.4" cy="310.85" r="3.0"/><circle cx="671.5" cy="311.75" r="3.0"/><circle cx="675.6" cy="310.85" r="3.0"/><circle cx="671.9" cy="279.2" r="3.0"/><circle cx="675.2" cy="283.2" r="3.0"/><circle cx="660.2" cy="284.2" r="3.0"/><circle cx="661.2" cy="290" r="3.0"/><circle cx="672.6" cy="293.4" r="3.0"/><circle cx="672.9" cy="294.4" r="3.0"/><circle cx="647.5" cy="294.4" r="3.0"/><circle cx="646" cy="299.7" r="3.0"/><circle cx="618.3" cy="298.8" r="3.0"/><circle cx="603.7" cy="299.7" r="3.0"/><circle cx="627.3" cy="301.1" r="3.0"/><circle cx="633.9" cy="302.6" r="3.0"/><circle cx="637.8" cy="304.3" r="3.0"/><circle cx="614.2" cy="303.2" r="3.0"/><circle cx="617.8" cy="305.1" r="3.0"/><circle cx="598.9" cy="305.8" r="3.0"/><circle cx="650" cy="304.6" r="3.0"/><circle cx="647.8" cy="305.8" r="3.0"/><circle cx="659.5" cy="301.7" r="3.0"/><circle cx="658" cy="304.3" r="3.0"/><circle cx="660.9" cy="306.5" r="3.0"/><circle cx="674.1" cy="302.6" r="3.0"/><circle cx="663.1" cy="308.7" r="3.0"/><circle cx="671.1" cy="308.7" r="3.0"/><circle cx="676.2" cy="309.4" r="3.0"/><circle cx="644.9" cy="308.7" r="3.0"/><circle cx="637.6" cy="308.7" r="3.0"/><circle cx="619.3" cy="309.4" r="3.0"/><circle cx="602.5" cy="310.2" r="3.0"/><circle cx="595.2" cy="310.9" r="3.0"/><circle cx="504.2" cy="301.8" r="3.0"/><circle cx="504.2" cy="307.7" r="3.0"/><circle cx="507.4" cy="308.4" r="3.0"/><circle cx="489.2" cy="306.9" r="3.0"/><circle cx="515.5" cy="310.6" r="3.0"/><circle cx="541" cy="305.8" r="3.0"/><circle cx="557.8" cy="306.2" r="3.0"/><circle cx="559.3" cy="308.7" r="3.0"/><circle cx="580.4" cy="305.5" r="3.0"/><circle cx="583.4" cy="307.7" r="3.0"/><circle cx="530.8" cy="309.9" r="3.0"/><circle cx="537.4" cy="309.9" r="3.0"/><circle cx="546.9" cy="312" r="3.0"/><circle cx="564.4" cy="310.6" r="3.0"/><circle cx="396.8" cy="296.4" r="3.0"/><circle cx="396" cy="301.8" r="3.0"/><circle cx="399" cy="301.1" r="3.0"/><circle cx="406.7" cy="301.1" r="3.0"/><circle cx="409.6" cy="305.5" r="3.0"/><circle cx="412.5" cy="305.2" r="3.0"/><circle cx="417.5" cy="304.3" r="3.0"/><circle cx="428.9" cy="298.5" r="3.0"/><circle cx="437.3" cy="298.2" r="3.0"/><circle cx="437.6" cy="303.3" r="3.0"/><circle cx="439.1" cy="306.6" r="3.0"/><circle cx="443.2" cy="301.4" r="3.0"/><circle cx="447.9" cy="306.2" r="3.0"/><circle cx="452.2" cy="307.7" r="3.0"/><circle cx="467.6" cy="306.9" r="3.0"/><circle cx="471.5" cy="306.2" r="3.0"/><circle cx="477" cy="303.7" r="3.0"/><circle cx="483.6" cy="308.4" r="3.0"/><circle cx="485.8" cy="307.7" r="3.0"/></g>
<g fill="#B22222" fill-opacity="0.8"><circle cx="395" cy="308.95" r="3.0"/><circle cx="402.8" cy="310.35" r="3.0"/><circle cx="404.6" cy="311.25" r="3.0"/><circle cx="420.4" cy="310.85" r="3.0"/><circle cx="426.9" cy="309.55" r="3.0"/><circle cx="436.8" cy="311.55" r="3.0"/><circle cx="439.2" cy="312.45" r="3.0"/><circle cx="441.6" cy="311.55" r="3.0"/><circle cx="444" cy="312.45" r="3.0"/><circle cx="453.2" cy="311.85" r="3.0"/><circle cx="455.5" cy="312.75" r="3.0"/><circle cx="457.8" cy="311.85" r="3.0"/><circle cx="460.1" cy="312.75" r="3.0"/><circle cx="462.4" cy="311.85" r="3.0"/><circle cx="464.7" cy="312.75" r="3.0"/><circle cx="467" cy="311.85" r="3.0"/><circle cx="469.3" cy="312.75" r="3.0"/><circle cx="471.6" cy="311.85" r="3.0"/><circle cx="473.9" cy="312.75" r="3.0"/><circle cx="476.2" cy="311.85" r="3.0"/><circle cx="478.5" cy="312.75" r="3.0"/><circle cx="480.8" cy="311.85" r="3.0"/><circle cx="483.1" cy="312.75" r="3.0"/><circle cx="485.4" cy="311.85" r="3.0"/><circle cx="487.7" cy="312.75" r="3.0"/><circle cx="490" cy="311.85" r="3.0"/><circle cx="492.3" cy="312.75" r="3.0"/><circle cx="494.6" cy="311.85" r="3.0"/><circle cx="505.4" cy="312.15" r="3.0"/><circle cx="507.45" cy="313.05" r="3.0"/><circle cx="509.5" cy="312.15" r="3.0"/><circle cx="511.55" cy="313.05" r="3.0"/><circle cx="513.6" cy="312.15" r="3.0"/><circle cx="521.3" cy="312.15" r="3.0"/><circle cx="530.4" cy="312.15" r="3.0"/><circle cx="532.45" cy="313.05" r="3.0"/><circle cx="534.5" cy="312.15" r="3.0"/><circle cx="536.55" cy="313.05" r="3.0"/><circle cx="538.6" cy="312.15" r="3.0"/><circle cx="553.4" cy="312.15" r="3.0"/><circle cx="555.8" cy="313.05" r="3.0"/><circle cx="558.2" cy="312.15" r="3.0"/><circle cx="560.6" cy="313.05" r="3.0"/><circle cx="568.4" cy="312.35" r="3.0"/><circle cx="570.6" cy="313.25" r="3.0"/><circle cx="572.8" cy="312.35" r="3.0"/><circle cx="575" cy="313.25" r="3.0"/><circle cx="577.2" cy="312.35" r="3.0"/><circle cx="579.4" cy="313.25" r="3.0"/><circle cx="581.6" cy="312.35" r="3.0"/><circle cx="583.8" cy="313.25" r="3.0"/><circle cx="586" cy="312.35" r="3.0"/><circle cx="588.2" cy="313.25" r="3.0"/><circle cx="590.4" cy="312.35" r="3.0"/><circle cx="592.6" cy="313.25" r="3.0"/><circle cx="601.4" cy="312.55" r="3.0"/><circle cx="603.62" cy="313.45" r="3.0"/><circle cx="605.84" cy="312.55" r="3.0"/><circle cx="608.06" cy="313.45" r="3.0"/><circle cx="610.28" cy="312.55" r="3.0"/><circle cx="612.5" cy="313.45" r="3.0"/><circle cx="614.72" cy="312.55" r="3.0"/><circle cx="616.94" cy="313.45" r="3.0"/><circle cx="619.16" cy="312.55" r="3.0"/><circle cx="621.38" cy="313.45" r="3.0"/><circle cx="623.6" cy="312.55" r="3.0"/><circle cx="632.4" cy="312.55" r="3.0"/><circle cx="635.6" cy="313.45" r="3.0"/><circle cx="643.4" cy="312.55" r="3.0"/><circle cx="645.84" cy="313.45" r="3.0"/><circle cx="648.28" cy="312.55" r="3.0"/><circle cx="650.72" cy="313.45" r="3.0"/><circle cx="653.16" cy="312.55" r="3.0"/><circle cx="655.6" cy="313.45" r="3.0"/><circle cx="664.4" cy="312.55" r="3.0"/><circle cx="666.64" cy="313.45" r="3.0"/><circle cx="668.88" cy="312.55" r="3.0"/><circle cx="671.12" cy="313.45" r="3.0"/><circle cx="673.36" cy="312.55" r="3.0"/><circle cx="675.6" cy="313.45" r="3.0"/></g>
<rect x="388.8" y="8.4" width="292.6" height="310.7" fill="none" stroke="#262626" stroke-width="1"/>
<line x1="393.7" y1="319.1" x2="393.7" y2="322.6" stroke="#262626" stroke-width="0.9"/>
<text x="393.7" y="331.7" font-size="9.0" text-anchor="middle" font-family='"Liberation Sans", sans-serif' fill="#000" fill-opacity="0.82" textLength="15.5" lengthAdjust="spacingAndGlyphs">20%</text>
<line x1="440.87" y1="319.1" x2="440.87" y2="322.6" stroke="#262626" stroke-width="0.9"/>
<text x="440.87" y="331.7" font-size="9.0" text-anchor="middle" font-family='"Liberation Sans", sans-serif' fill="#000" fill-opacity="0.82" textLength="15.5" lengthAdjust="spacingAndGlyphs">30%</text>
<line x1="488.03" y1="319.1" x2="488.03" y2="322.6" stroke="#262626" stroke-width="0.9"/>
<text x="488.03" y="331.7" font-size="9.0" text-anchor="middle" font-family='"Liberation Sans", sans-serif' fill="#000" fill-opacity="0.82" textLength="15.5" lengthAdjust="spacingAndGlyphs">40%</text>
<line x1="535.2" y1="319.1" x2="535.2" y2="322.6" stroke="#262626" stroke-width="0.9"/>
<text x="535.2" y="331.7" font-size="9.0" text-anchor="middle" font-family='"Liberation Sans", sans-serif' fill="#000" fill-opacity="0.82" textLength="15.5" lengthAdjust="spacingAndGlyphs">50%</text>
<line x1="582.37" y1="319.1" x2="582.37" y2="322.6" stroke="#262626" stroke-width="0.9"/>
<text x="582.37" y="331.7" font-size="9.0" text-anchor="middle" font-family='"Liberation Sans", sans-serif' fill="#000" fill-opacity="0.82" textLength="15.5" lengthAdjust="spacingAndGlyphs">60%</text>
<line x1="629.53" y1="319.1" x2="629.53" y2="322.6" stroke="#262626" stroke-width="0.9"/>
<text x="629.53" y="331.7" font-size="9.0" text-anchor="middle" font-family='"Liberation Sans", sans-serif' fill="#000" fill-opacity="0.82" textLength="15.5" lengthAdjust="spacingAndGlyphs">70%</text>
<line x1="676.7" y1="319.1" x2="676.7" y2="322.6" stroke="#262626" stroke-width="0.9"/>
<text x="676.7" y="331.7" font-size="9.0" text-anchor="middle" font-family='"Liberation Sans", sans-serif' fill="#000" fill-opacity="0.82" textLength="15.5" lengthAdjust="spacingAndGlyphs">80%</text>
<line x1="385.3" y1="314.5" x2="388.8" y2="314.5" stroke="#262626" stroke-width="0.9"/>
<text x="382.3" y="317.4" font-size="9.1" text-anchor="end" font-family='"Liberation Sans", sans-serif' fill="#000" fill-opacity="0.82" textLength="10.6" lengthAdjust="spacingAndGlyphs">0%</text>
<line x1="385.3" y1="267.3" x2="388.8" y2="267.3" stroke="#262626" stroke-width="0.9"/>
<text x="382.3" y="270.2" font-size="9.1" text-anchor="end" font-family='"Liberation Sans", sans-serif' fill="#000" fill-opacity="0.82" textLength="15" lengthAdjust="spacingAndGlyphs">10%</text>
<line x1="385.3" y1="220.1" x2="388.8" y2="220.1" stroke="#262626" stroke-width="0.9"/>
<text x="382.3" y="223" font-size="9.1" text-anchor="end" font-family='"Liberation Sans", sans-serif' fill="#000" fill-opacity="0.82" textLength="15" lengthAdjust="spacingAndGlyphs">20%</text>
<line x1="385.3" y1="172.9" x2="388.8" y2="172.9" stroke="#262626" stroke-width="0.9"/>
<text x="382.3" y="175.8" font-size="9.1" text-anchor="end" font-family='"Liberation Sans", sans-serif' fill="#000" fill-opacity="0.82" textLength="15" lengthAdjust="spacingAndGlyphs">30%</text>
<line x1="385.3" y1="125.7" x2="388.8" y2="125.7" stroke="#262626" stroke-width="0.9"/>
<text x="382.3" y="128.6" font-size="9.1" text-anchor="end" font-family='"Liberation Sans", sans-serif' fill="#000" fill-opacity="0.82" textLength="15" lengthAdjust="spacingAndGlyphs">40%</text>
<line x1="385.3" y1="78.5" x2="388.8" y2="78.5" stroke="#262626" stroke-width="0.9"/>
<text x="382.3" y="81.4" font-size="9.1" text-anchor="end" font-family='"Liberation Sans", sans-serif' fill="#000" fill-opacity="0.82" textLength="15" lengthAdjust="spacingAndGlyphs">50%</text>
<line x1="385.3" y1="31.3" x2="388.8" y2="31.3" stroke="#262626" stroke-width="0.9"/>
<text x="382.3" y="34.2" font-size="9.1" text-anchor="end" font-family='"Liberation Sans", sans-serif' fill="#000" fill-opacity="0.82" textLength="15" lengthAdjust="spacingAndGlyphs">60%</text>
<text x="535.5" y="344.2" font-size="8.6" text-anchor="middle" font-family='"Liberation Sans", sans-serif' fill="#000" fill-opacity="0.82" textLength="121" lengthAdjust="spacingAndGlyphs">past attack rate (before t = 450)</text>
<text transform="translate(360.6,164.75) rotate(-90)" x="0" y="0" font-size="8.6" text-anchor="middle" font-family='"Liberation Sans", sans-serif' fill="#000" fill-opacity="0.82" textLength="147.5" lengthAdjust="spacingAndGlyphs">near-future attack rate (t = 450 to 650)</text>
<text x="346.7" y="11.74" font-size="15.5" font-family='"Liberation Sans", sans-serif' fill="#000" fill-opacity="0.85">(</text>
<text x="353.8" y="12.3" font-size="15.5" font-family='"Liberation Sans", sans-serif' fill="#000" fill-opacity="0.85">b</text>
<text x="365.75" y="11.74" font-size="15.5" font-family='"Liberation Sans", sans-serif' fill="#000" fill-opacity="0.85">)</text>
<rect x="396.3" y="12.4" width="125.2" height="65.6" rx="2" fill="#fff" fill-opacity="0.8" stroke="#d0d0d0" stroke-width="0.9"/>
<text x="458.9" y="23" font-size="8.4" text-anchor="middle" font-family='"Liberation Sans", sans-serif' fill="#000" fill-opacity="0.82" textLength="58.5" lengthAdjust="spacingAndGlyphs">older population</text>
<circle cx="408.2" cy="32.9" r="4.1" fill="#fff" stroke="#FA8072" stroke-width="0.9"/>
<text x="423.9" y="35.9" font-size="8.6" text-anchor="start" font-family='"Liberation Sans", sans-serif' fill="#000" fill-opacity="0.82" textLength="52.5" lengthAdjust="spacingAndGlyphs">no vaccination</text>
<circle cx="408.2" cy="45.75" r="4.6" fill="#FA8072"/>
<text x="423.9" y="48.75" font-size="8.6" text-anchor="start" font-family='"Liberation Sans", sans-serif' fill="#000" fill-opacity="0.82" textLength="94" lengthAdjust="spacingAndGlyphs">20% vaccination coverage</text>
<circle cx="408.2" cy="58.6" r="4.6" fill="#FF0000"/>
<text x="423.9" y="61.6" font-size="8.6" text-anchor="start" font-family='"Liberation Sans", sans-serif' fill="#000" fill-opacity="0.82" textLength="94" lengthAdjust="spacingAndGlyphs">50% vaccination coverage</text>
<circle cx="408.2" cy="71.45" r="4.6" fill="#B22222"/>
<text x="423.9" y="74.45" font-size="8.6" text-anchor="start" font-family='"Liberation Sans", sans-serif' fill="#000" fill-opacity="0.82" textLength="94" lengthAdjust="spacingAndGlyphs">80% vaccination coverage</text>
<rect x="44.5" y="359.4" width="4.8" height="242" fill="#e5e5e5"/>
<rect x="96.45" y="359.4" width="47.15" height="242" fill="#e5e5e5"/>
<rect x="190.75" y="359.4" width="47.15" height="242" fill="#e5e5e5"/>
<rect x="285.05" y="359.4" width="47.15" height="242" fill="#e5e5e5"/>
<line x1="49.3" y1="359.4" x2="49.3" y2="601.4" stroke="#8f8f8f" stroke-width="1"/>
<line x1="96.45" y1="359.4" x2="96.45" y2="601.4" stroke="#8f8f8f" stroke-width="1"/>
<line x1="143.6" y1="359.4" x2="143.6" y2="601.4" stroke="#8f8f8f" stroke-width="1"/>
<line x1="190.75" y1="359.4" x2="190.75" y2="601.4" stroke="#8f8f8f" stroke-width="1"/>
<line x1="237.9" y1="359.4" x2="237.9" y2="601.4" stroke="#8f8f8f" stroke-width="1"/>
<line x1="285.05" y1="359.4" x2="285.05" y2="601.4" stroke="#8f8f8f" stroke-width="1"/>
<line x1="332.2" y1="359.4" x2="332.2" y2="601.4" stroke="#8f8f8f" stroke-width="1"/>
<line x1="44.5" y1="593.5" x2="335.6" y2="593.5" stroke="#8f8f8f" stroke-width="1"/>
<line x1="44.5" y1="554.49" x2="335.6" y2="554.49" stroke="#8f8f8f" stroke-width="1"/>
<line x1="44.5" y1="515.47" x2="335.6" y2="515.47" stroke="#8f8f8f" stroke-width="1"/>
<line x1="44.5" y1="476.45" x2="335.6" y2="476.45" stroke="#8f8f8f" stroke-width="1"/>
<line x1="44.5" y1="437.44" x2="335.6" y2="437.44" stroke="#8f8f8f" stroke-width="1"/>
<line x1="44.5" y1="398.43" x2="335.6" y2="398.43" stroke="#8f8f8f" stroke-width="1"/>
<line x1="44.5" y1="359.41" x2="335.6" y2="359.41" stroke="#8f8f8f" stroke-width="1"/>
<g id="ptsc"></g>
<g fill="#fff" fill-opacity="0.85" stroke="#87CEFA" stroke-opacity="0.85" stroke-width="0.8"><circle cx="50" cy="593.5" r="2.6"/><circle cx="50" cy="577.89" r="2.6"/><circle cx="112.4" cy="577.89" r="2.6"/><circle cx="200.8" cy="577.89" r="2.6"/><circle cx="241.8" cy="577.89" r="2.6"/><circle cx="50" cy="570.09" r="2.6"/><circle cx="55" cy="570.09" r="2.6"/><circle cx="105.9" cy="570.09" r="2.6"/><circle cx="109.1" cy="570.09" r="2.6"/><circle cx="144" cy="570.09" r="2.6"/><circle cx="164.3" cy="570.09" r="2.6"/><circle cx="168.7" cy="570.09" r="2.6"/><circle cx="173" cy="570.09" r="2.6"/><circle cx="195.9" cy="570.09" r="2.6"/><circle cx="220.8" cy="570.09" r="2.6"/><circle cx="222.1" cy="570.09" r="2.6"/><circle cx="241.8" cy="570.09" r="2.6"/><circle cx="325.3" cy="570.09" r="2.6"/><circle cx="50.6" cy="562.29" r="2.6"/><circle cx="67.5" cy="562.29" r="2.6"/><circle cx="70.3" cy="562.29" r="2.6"/><circle cx="74.7" cy="562.29" r="2.6"/><circle cx="134.2" cy="562.29" r="2.6"/><circle cx="139.1" cy="562.29" r="2.6"/><circle cx="151.7" cy="562.29" r="2.6"/><circle cx="175.2" cy="562.29" r="2.6"/><circle cx="199.7" cy="562.29" r="2.6"/><circle cx="217.2" cy="562.29" r="2.6"/><circle cx="304.3" cy="562.29" r="2.6"/><circle cx="307.8" cy="562.29" r="2.6"/><circle cx="50.8" cy="554.49" r="2.6"/><circle cx="55.5" cy="554.49" r="2.6"/><circle cx="68.6" cy="554.49" r="2.6"/><circle cx="74.1" cy="554.49" r="2.6"/><circle cx="105.3" cy="554.49" r="2.6"/><circle cx="249.5" cy="554.49" r="2.6"/><circle cx="270.8" cy="554.49" r="2.6"/><circle cx="220.8" cy="546.68" r="2.6"/><circle cx="281.9" cy="546.68" r="2.6"/><circle cx="308.2" cy="546.68" r="2.6"/><circle cx="329.4" cy="546.68" r="2.6"/><circle cx="106.7" cy="531.08" r="2.6"/><circle cx="301" cy="515.47" r="2.6"/></g>
<g fill="#87CEFA" fill-opacity="0.8"><circle cx="75.2" cy="593.5" r="3.0"/><circle cx="50.6" cy="585.7" r="3.0"/><circle cx="75.2" cy="585.7" r="3.0"/><circle cx="104.2" cy="585.7" r="3.0"/><circle cx="114" cy="585.7" r="3.0"/><circle cx="73.6" cy="577.89" r="3.0"/><circle cx="103.7" cy="577.89" r="3.0"/><circle cx="186" cy="577.89" r="3.0"/><circle cx="189.3" cy="577.89" r="3.0"/><circle cx="204.1" cy="577.89" r="3.0"/><circle cx="225.4" cy="577.89" r="3.0"/><circle cx="74.1" cy="570.09" r="3.0"/><circle cx="126" cy="570.09" r="3.0"/><circle cx="129.2" cy="570.09" r="3.0"/><circle cx="140.7" cy="570.09" r="3.0"/><circle cx="142.73" cy="570.09" r="3.0"/><circle cx="144.77" cy="570.09" r="3.0"/><circle cx="146.8" cy="570.09" r="3.0"/><circle cx="187.3" cy="570.09" r="3.0"/><circle cx="210.1" cy="570.09" r="3.0"/><circle cx="233.1" cy="570.09" r="3.0"/><circle cx="265.2" cy="570.09" r="3.0"/><circle cx="287.4" cy="570.09" r="3.0"/><circle cx="289.7" cy="570.09" r="3.0"/><circle cx="292" cy="570.09" r="3.0"/><circle cx="297.9" cy="570.09" r="3.0"/><circle cx="300.8" cy="570.09" r="3.0"/><circle cx="303.7" cy="570.09" r="3.0"/><circle cx="63.7" cy="562.29" r="3.0"/><circle cx="71.9" cy="562.29" r="3.0"/><circle cx="208.4" cy="562.29" r="3.0"/><circle cx="212.3" cy="562.29" r="3.0"/><circle cx="214.5" cy="562.29" r="3.0"/><circle cx="228.2" cy="562.29" r="3.0"/><circle cx="234.2" cy="562.29" r="3.0"/><circle cx="236.4" cy="562.29" r="3.0"/><circle cx="268.7" cy="562.29" r="3.0"/><circle cx="282.7" cy="562.29" r="3.0"/><circle cx="285.6" cy="562.29" r="3.0"/><circle cx="288.5" cy="562.29" r="3.0"/><circle cx="298.5" cy="562.29" r="3.0"/><circle cx="313.1" cy="562.29" r="3.0"/><circle cx="315.35" cy="562.29" r="3.0"/><circle cx="317.6" cy="562.29" r="3.0"/><circle cx="319.85" cy="562.29" r="3.0"/><circle cx="322.1" cy="562.29" r="3.0"/><circle cx="324.35" cy="562.29" r="3.0"/><circle cx="326.6" cy="562.29" r="3.0"/><circle cx="328.85" cy="562.29" r="3.0"/><circle cx="331.1" cy="562.29" r="3.0"/><circle cx="132.5" cy="554.49" r="3.0"/><circle cx="136.4" cy="554.49" r="3.0"/><circle cx="204.1" cy="554.49" r="3.0"/><circle cx="207.9" cy="554.49" r="3.0"/><circle cx="282.1" cy="554.49" r="3.0"/><circle cx="288" cy="554.49" r="3.0"/><circle cx="304.9" cy="554.49" r="3.0"/><circle cx="316.6" cy="554.49" r="3.0"/><circle cx="318.92" cy="554.49" r="3.0"/><circle cx="321.24" cy="554.49" r="3.0"/><circle cx="323.56" cy="554.49" r="3.0"/><circle cx="325.88" cy="554.49" r="3.0"/><circle cx="328.2" cy="554.49" r="3.0"/><circle cx="299" cy="546.68" r="3.0"/><circle cx="302" cy="546.68" r="3.0"/><circle cx="304.9" cy="546.68" r="3.0"/><circle cx="311.3" cy="546.68" r="3.0"/></g>
<g fill="#1E90FF" fill-opacity="0.8"><circle cx="97.7" cy="593.5" r="3.0"/><circle cx="99.87" cy="593.5" r="3.0"/><circle cx="102.03" cy="593.5" r="3.0"/><circle cx="104.2" cy="593.5" r="3.0"/><circle cx="115.2" cy="593.5" r="3.0"/><circle cx="130.3" cy="593.5" r="3.0"/><circle cx="147.8" cy="593.5" r="3.0"/><circle cx="150" cy="593.5" r="3.0"/><circle cx="152.2" cy="593.5" r="3.0"/><circle cx="191.5" cy="593.5" r="3.0"/><circle cx="332.3" cy="593.5" r="3.0"/><circle cx="80.1" cy="585.7" r="3.0"/><circle cx="98.7" cy="585.7" r="3.0"/><circle cx="101.5" cy="585.7" r="3.0"/><circle cx="126" cy="585.7" r="3.0"/><circle cx="128.15" cy="585.7" r="3.0"/><circle cx="130.3" cy="585.7" r="3.0"/><circle cx="149.2" cy="585.7" r="3.0"/><circle cx="151.15" cy="585.7" r="3.0"/><circle cx="153.1" cy="585.7" r="3.0"/><circle cx="190.9" cy="585.7" r="3.0"/><circle cx="207.4" cy="585.7" r="3.0"/><circle cx="241.8" cy="585.7" r="3.0"/><circle cx="332.3" cy="585.7" r="3.0"/><circle cx="98.7" cy="577.89" r="3.0"/><circle cx="102" cy="577.89" r="3.0"/><circle cx="115.2" cy="577.89" r="3.0"/><circle cx="122.4" cy="577.89" r="3.0"/><circle cx="124.85" cy="577.89" r="3.0"/><circle cx="127.3" cy="577.89" r="3.0"/><circle cx="129.74" cy="577.89" r="3.0"/><circle cx="132.19" cy="577.89" r="3.0"/><circle cx="134.64" cy="577.89" r="3.0"/><circle cx="137.09" cy="577.89" r="3.0"/><circle cx="139.54" cy="577.89" r="3.0"/><circle cx="141.98" cy="577.89" r="3.0"/><circle cx="144.43" cy="577.89" r="3.0"/><circle cx="146.88" cy="577.89" r="3.0"/><circle cx="149.33" cy="577.89" r="3.0"/><circle cx="151.78" cy="577.89" r="3.0"/><circle cx="154.22" cy="577.89" r="3.0"/><circle cx="156.67" cy="577.89" r="3.0"/><circle cx="159.12" cy="577.89" r="3.0"/><circle cx="161.57" cy="577.89" r="3.0"/><circle cx="164.02" cy="577.89" r="3.0"/><circle cx="166.46" cy="577.89" r="3.0"/><circle cx="168.91" cy="577.89" r="3.0"/><circle cx="171.36" cy="577.89" r="3.0"/><circle cx="173.81" cy="577.89" r="3.0"/><circle cx="176.26" cy="577.89" r="3.0"/><circle cx="178.7" cy="577.89" r="3.0"/><circle cx="181.15" cy="577.89" r="3.0"/><circle cx="183.6" cy="577.89" r="3.0"/><circle cx="191.5" cy="577.89" r="3.0"/><circle cx="194.03" cy="577.89" r="3.0"/><circle cx="196.57" cy="577.89" r="3.0"/><circle cx="199.1" cy="577.89" r="3.0"/><circle cx="221" cy="577.89" r="3.0"/><circle cx="229.8" cy="577.89" r="3.0"/><circle cx="232" cy="577.89" r="3.0"/><circle cx="238.6" cy="577.89" r="3.0"/><circle cx="245.1" cy="577.89" r="3.0"/><circle cx="264.6" cy="577.89" r="3.0"/><circle cx="280.4" cy="577.89" r="3.0"/><circle cx="290.3" cy="577.89" r="3.0"/><circle cx="302" cy="577.89" r="3.0"/><circle cx="331.7" cy="577.89" r="3.0"/><circle cx="100.9" cy="570.09" r="3.0"/><circle cx="150.3" cy="570.09" r="3.0"/><circle cx="193.1" cy="570.09" r="3.0"/><circle cx="213.4" cy="570.09" r="3.0"/><circle cx="245.1" cy="570.09" r="3.0"/><circle cx="256.8" cy="570.09" r="3.0"/><circle cx="267.5" cy="570.09" r="3.0"/><circle cx="278.6" cy="570.09" r="3.0"/><circle cx="283.3" cy="570.09" r="3.0"/><circle cx="293.2" cy="570.09" r="3.0"/><circle cx="321.2" cy="570.09" r="3.0"/><circle cx="330.6" cy="570.09" r="3.0"/><circle cx="58.8" cy="562.29" r="3.0"/><circle cx="100.4" cy="562.29" r="3.0"/><circle cx="143.7" cy="562.29" r="3.0"/><circle cx="197.5" cy="562.29" r="3.0"/></g>
<g fill="#000080" fill-opacity="0.8"><circle cx="55.7" cy="593.5" r="3.0"/><circle cx="58.18" cy="593.5" r="3.0"/><circle cx="60.67" cy="593.5" r="3.0"/><circle cx="63.15" cy="593.5" r="3.0"/><circle cx="65.63" cy="593.5" r="3.0"/><circle cx="68.12" cy="593.5" r="3.0"/><circle cx="70.6" cy="593.5" r="3.0"/><circle cx="80.4" cy="593.5" r="3.0"/><circle cx="82.94" cy="593.5" r="3.0"/><circle cx="85.48" cy="593.5" r="3.0"/><circle cx="88.02" cy="593.5" r="3.0"/><circle cx="90.56" cy="593.5" r="3.0"/><circle cx="93.1" cy="593.5" r="3.0"/><circle cx="109.1" cy="593.5" r="3.0"/><circle cx="120.9" cy="593.5" r="3.0"/><circle cx="123.3" cy="593.5" r="3.0"/><circle cx="125.7" cy="593.5" r="3.0"/><circle cx="134.9" cy="593.5" r="3.0"/><circle cx="137.7" cy="593.5" r="3.0"/><circle cx="140.5" cy="593.5" r="3.0"/><circle cx="143.3" cy="593.5" r="3.0"/><circle cx="155.7" cy="593.5" r="3.0"/><circle cx="158.12" cy="593.5" r="3.0"/><circle cx="160.53" cy="593.5" r="3.0"/><circle cx="162.95" cy="593.5" r="3.0"/><circle cx="165.36" cy="593.5" r="3.0"/><circle cx="167.78" cy="593.5" r="3.0"/><circle cx="170.19" cy="593.5" r="3.0"/><circle cx="172.61" cy="593.5" r="3.0"/><circle cx="175.02" cy="593.5" r="3.0"/><circle cx="177.44" cy="593.5" r="3.0"/><circle cx="179.85" cy="593.5" r="3.0"/><circle cx="182.27" cy="593.5" r="3.0"/><circle cx="184.68" cy="593.5" r="3.0"/><circle cx="187.1" cy="593.5" r="3.0"/><circle cx="196.6" cy="593.5" r="3.0"/><circle cx="199.03" cy="593.5" r="3.0"/><circle cx="201.47" cy="593.5" r="3.0"/><circle cx="203.9" cy="593.5" r="3.0"/><circle cx="211.9" cy="593.5" r="3.0"/><circle cx="214.13" cy="593.5" r="3.0"/><circle cx="216.37" cy="593.5" r="3.0"/><circle cx="218.6" cy="593.5" r="3.0"/><circle cx="223.8" cy="593.5" r="3.0"/><circle cx="229.5" cy="593.5" r="3.0"/><circle cx="231.7" cy="593.5" r="3.0"/><circle cx="233.9" cy="593.5" r="3.0"/><circle cx="236.1" cy="593.5" r="3.0"/><circle cx="238.3" cy="593.5" r="3.0"/><circle cx="245.3" cy="593.5" r="3.0"/><circle cx="247.73" cy="593.5" r="3.0"/><circle cx="250.17" cy="593.5" r="3.0"/><circle cx="252.6" cy="593.5" r="3.0"/><circle cx="255.03" cy="593.5" r="3.0"/><circle cx="257.47" cy="593.5" r="3.0"/><circle cx="259.9" cy="593.5" r="3.0"/><circle cx="266.4" cy="593.5" r="3.0"/><circle cx="268.7" cy="593.5" r="3.0"/><circle cx="271" cy="593.5" r="3.0"/><circle cx="273.3" cy="593.5" r="3.0"/><circle cx="275.6" cy="593.5" r="3.0"/><circle cx="281.6" cy="593.5" r="3.0"/><circle cx="284" cy="593.5" r="3.0"/><circle cx="286.4" cy="593.5" r="3.0"/><circle cx="288.8" cy="593.5" r="3.0"/><circle cx="291.2" cy="593.5" r="3.0"/><circle cx="293.6" cy="593.5" r="3.0"/><circle cx="296" cy="593.5" r="3.0"/><circle cx="298.4" cy="593.5" r="3.0"/><circle cx="304.9" cy="593.5" r="3.0"/><circle cx="307.12" cy="593.5" r="3.0"/><circle cx="309.33" cy="593.5" r="3.0"/><circle cx="311.55" cy="593.5" r="3.0"/><circle cx="313.77" cy="593.5" r="3.0"/><circle cx="315.98" cy="593.5" r="3.0"/><circle cx="318.2" cy="593.5" r="3.0"/><circle cx="324.2" cy="593.5" r="3.0"/><circle cx="326.75" cy="593.5" r="3.0"/><circle cx="329.3" cy="593.5" r="3.0"/><circle cx="56.3" cy="585.7" r="3.0"/><circle cx="58.68" cy="585.7" r="3.0"/><circle cx="61.07" cy="585.7" r="3.0"/><circle cx="63.45" cy="585.7" r="3.0"/><circle cx="65.83" cy="585.7" r="3.0"/><circle cx="68.22" cy="585.7" r="3.0"/><circle cx="70.6" cy="585.7" r="3.0"/><circle cx="84.2" cy="585.7" r="3.0"/><circle cx="86.42" cy="585.7" r="3.0"/><circle cx="88.65" cy="585.7" r="3.0"/><circle cx="90.88" cy="585.7" r="3.0"/><circle cx="93.1" cy="585.7" r="3.0"/><circle cx="109.1" cy="585.7" r="3.0"/><circle cx="119" cy="585.7" r="3.0"/><circle cx="135.5" cy="585.7" r="3.0"/><circle cx="138.1" cy="585.7" r="3.0"/><circle cx="140.7" cy="585.7" r="3.0"/><circle cx="143.3" cy="585.7" r="3.0"/><circle cx="159" cy="585.7" r="3.0"/><circle cx="161.34" cy="585.7" r="3.0"/><circle cx="163.68" cy="585.7" r="3.0"/><circle cx="166.03" cy="585.7" r="3.0"/><circle cx="168.37" cy="585.7" r="3.0"/><circle cx="170.71" cy="585.7" r="3.0"/><circle cx="173.05" cy="585.7" r="3.0"/><circle cx="175.39" cy="585.7" r="3.0"/><circle cx="177.73" cy="585.7" r="3.0"/><circle cx="180.07" cy="585.7" r="3.0"/><circle cx="182.42" cy="585.7" r="3.0"/><circle cx="184.76" cy="585.7" r="3.0"/><circle cx="187.1" cy="585.7" r="3.0"/><circle cx="196.1" cy="585.7" r="3.0"/><circle cx="198.33" cy="585.7" r="3.0"/><circle cx="200.57" cy="585.7" r="3.0"/><circle cx="202.8" cy="585.7" r="3.0"/><circle cx="211.9" cy="585.7" r="3.0"/><circle cx="214.7" cy="585.7" r="3.0"/><circle cx="217.5" cy="585.7" r="3.0"/><circle cx="223.8" cy="585.7" r="3.0"/><circle cx="229.5" cy="585.7" r="3.0"/><circle cx="231.7" cy="585.7" r="3.0"/><circle cx="233.9" cy="585.7" r="3.0"/><circle cx="236.1" cy="585.7" r="3.0"/><circle cx="238.3" cy="585.7" r="3.0"/><circle cx="245.3" cy="585.7" r="3.0"/><circle cx="247.73" cy="585.7" r="3.0"/><circle cx="250.17" cy="585.7" r="3.0"/><circle cx="252.6" cy="585.7" r="3.0"/><circle cx="255.03" cy="585.7" r="3.0"/><circle cx="257.47" cy="585.7" r="3.0"/><circle cx="259.9" cy="585.7" r="3.0"/><circle cx="266.4" cy="585.7" r="3.0"/><circle cx="268.7" cy="585.7" r="3.0"/><circle cx="271" cy="585.7" r="3.0"/><circle cx="273.3" cy="585.7" r="3.0"/><circle cx="275.6" cy="585.7" r="3.0"/><circle cx="281.6" cy="585.7" r="3.0"/><circle cx="284" cy="585.7" r="3.0"/><circle cx="286.4" cy="585.7" r="3.0"/><circle cx="288.8" cy="585.7" r="3.0"/><circle cx="291.2" cy="585.7" r="3.0"/><circle cx="293.6" cy="585.7" r="3.0"/><circle cx="296" cy="585.7" r="3.0"/><circle cx="298.4" cy="585.7" r="3.0"/><circle cx="304.9" cy="585.7" r="3.0"/><circle cx="307.12" cy="585.7" r="3.0"/><circle cx="309.33" cy="585.7" r="3.0"/><circle cx="311.55" cy="585.7" r="3.0"/><circle cx="313.77" cy="585.7" r="3.0"/><circle cx="315.98" cy="585.7" r="3.0"/><circle cx="318.2" cy="585.7" r="3.0"/><circle cx="324.2" cy="585.7" r="3.0"/><circle cx="326.75" cy="585.7" r="3.0"/><circle cx="329.3" cy="585.7" r="3.0"/><circle cx="57.4" cy="577.89" r="3.0"/><circle cx="59.94" cy="577.89" r="3.0"/><circle cx="62.48" cy="577.89" r="3.0"/><circle cx="65.02" cy="577.89" r="3.0"/><circle cx="67.56" cy="577.89" r="3.0"/><circle cx="70.1" cy="577.89" r="3.0"/><circle cx="79.6" cy="577.89" r="3.0"/><circle cx="88" cy="577.89" r="3.0"/><circle cx="90.55" cy="577.89" r="3.0"/><circle cx="93.1" cy="577.89" r="3.0"/><circle cx="108.6" cy="577.89" r="3.0"/><circle cx="119" cy="577.89" r="3.0"/><circle cx="126" cy="577.89" r="3.0"/><circle cx="134.2" cy="577.89" r="3.0"/><circle cx="140.7" cy="577.89" r="3.0"/><circle cx="155.5" cy="577.89" r="3.0"/><circle cx="159.9" cy="577.89" r="3.0"/><circle cx="168.1" cy="577.89" r="3.0"/><circle cx="177.4" cy="577.89" r="3.0"/><circle cx="181.8" cy="577.89" r="3.0"/><circle cx="211.9" cy="577.89" r="3.0"/><circle cx="213.9" cy="577.89" r="3.0"/><circle cx="215.9" cy="577.89" r="3.0"/><circle cx="235.3" cy="577.89" r="3.0"/><circle cx="250.1" cy="577.89" r="3.0"/><circle cx="256.1" cy="577.89" r="3.0"/><circle cx="258.9" cy="577.89" r="3.0"/><circle cx="261.7" cy="577.89" r="3.0"/><circle cx="269.9" cy="577.89" r="3.0"/><circle cx="272.75" cy="577.89" r="3.0"/><circle cx="275.6" cy="577.89" r="3.0"/><circle cx="284.4" cy="577.89" r="3.0"/><circle cx="287.4" cy="577.89" r="3.0"/><circle cx="294.4" cy="577.89" r="3.0"/><circle cx="297.8" cy="577.89" r="3.0"/><circle cx="306.1" cy="577.89" r="3.0"/><circle cx="308.56" cy="577.89" r="3.0"/><circle cx="311.02" cy="577.89" r="3.0"/><circle cx="313.49" cy="577.89" r="3.0"/><circle cx="315.95" cy="577.89" r="3.0"/><circle cx="318.41" cy="577.89" r="3.0"/><circle cx="320.88" cy="577.89" r="3.0"/><circle cx="323.34" cy="577.89" r="3.0"/><circle cx="325.8" cy="577.89" r="3.0"/><circle cx="59.3" cy="570.09" r="3.0"/><circle cx="63.7" cy="570.09" r="3.0"/><circle cx="67.5" cy="570.09" r="3.0"/><circle cx="70.3" cy="570.09" r="3.0"/><circle cx="79" cy="570.09" r="3.0"/><circle cx="84" cy="570.09" r="3.0"/><circle cx="88.9" cy="570.09" r="3.0"/><circle cx="93.3" cy="570.09" r="3.0"/><circle cx="119" cy="570.09" r="3.0"/><circle cx="134.2" cy="570.09" r="3.0"/><circle cx="180.1" cy="570.09" r="3.0"/><circle cx="248.4" cy="570.09" r="3.0"/><circle cx="251.7" cy="570.09" r="3.0"/><circle cx="253.9" cy="570.09" r="3.0"/><circle cx="271.6" cy="570.09" r="3.0"/><circle cx="307.8" cy="570.09" r="3.0"/><circle cx="316.6" cy="570.09" r="3.0"/><circle cx="88.7" cy="562.29" r="3.0"/><circle cx="93.5" cy="562.29" r="3.0"/><circle cx="250.1" cy="562.29" r="3.0"/><circle cx="88.7" cy="554.49" r="3.0"/><circle cx="260.2" cy="554.49" r="3.0"/></g>
<g fill="#1E90FF" fill-opacity="0.5"></g>
<rect x="44.5" y="359.4" width="291.1" height="242" fill="none" stroke="#262626" stroke-width="1"/>
<line x1="49.3" y1="601.4" x2="49.3" y2="604.9" stroke="#262626" stroke-width="0.9"/>
<text x="49.3" y="613.5" font-size="9.0" text-anchor="middle" font-family='"Liberation Sans", sans-serif' fill="#000" fill-opacity="0.82" textLength="15.5" lengthAdjust="spacingAndGlyphs">20%</text>
<line x1="96.45" y1="601.4" x2="96.45" y2="604.9" stroke="#262626" stroke-width="0.9"/>
<text x="96.45" y="613.5" font-size="9.0" text-anchor="middle" font-family='"Liberation Sans", sans-serif' fill="#000" fill-opacity="0.82" textLength="15.5" lengthAdjust="spacingAndGlyphs">30%</text>
<line x1="143.6" y1="601.4" x2="143.6" y2="604.9" stroke="#262626" stroke-width="0.9"/>
<text x="143.6" y="613.5" font-size="9.0" text-anchor="middle" font-family='"Liberation Sans", sans-serif' fill="#000" fill-opacity="0.82" textLength="15.5" lengthAdjust="spacingAndGlyphs">40%</text>
<line x1="190.75" y1="601.4" x2="190.75" y2="604.9" stroke="#262626" stroke-width="0.9"/>
<text x="190.75" y="613.5" font-size="9.0" text-anchor="middle" font-family='"Liberation Sans", sans-serif' fill="#000" fill-opacity="0.82" textLength="15.5" lengthAdjust="spacingAndGlyphs">50%</text>
<line x1="237.9" y1="601.4" x2="237.9" y2="604.9" stroke="#262626" stroke-width="0.9"/>
<text x="237.9" y="613.5" font-size="9.0" text-anchor="middle" font-family='"Liberation Sans", sans-serif' fill="#000" fill-opacity="0.82" textLength="15.5" lengthAdjust="spacingAndGlyphs">60%</text>
<line x1="285.05" y1="601.4" x2="285.05" y2="604.9" stroke="#262626" stroke-width="0.9"/>
<text x="285.05" y="613.5" font-size="9.0" text-anchor="middle" font-family='"Liberation Sans", sans-serif' fill="#000" fill-opacity="0.82" textLength="15.5" lengthAdjust="spacingAndGlyphs">70%</text>
<line x1="332.2" y1="601.4" x2="332.2" y2="604.9" stroke="#262626" stroke-width="0.9"/>
<text x="332.2" y="613.5" font-size="9.0" text-anchor="middle" font-family='"Liberation Sans", sans-serif' fill="#000" fill-opacity="0.82" textLength="15.5" lengthAdjust="spacingAndGlyphs">80%</text>
<line x1="41" y1="593.5" x2="44.5" y2="593.5" stroke="#262626" stroke-width="0.9"/>
<text x="38.1" y="596.6" font-size="8.8" text-anchor="end" font-family='"Liberation Serif", serif' fill="#000" fill-opacity="0.82" textLength="4.2" lengthAdjust="spacingAndGlyphs">0</text>
<line x1="41" y1="554.49" x2="44.5" y2="554.49" stroke="#262626" stroke-width="0.9"/>
<text x="38.1" y="557.59" font-size="8.8" text-anchor="end" font-family='"Liberation Serif", serif' fill="#000" fill-opacity="0.82" textLength="4.2" lengthAdjust="spacingAndGlyphs">5</text>
<line x1="41" y1="515.47" x2="44.5" y2="515.47" stroke="#262626" stroke-width="0.9"/>
<text x="38.1" y="518.57" font-size="8.8" text-anchor="end" font-family='"Liberation Serif", serif' fill="#000" fill-opacity="0.82" textLength="8.3" lengthAdjust="spacingAndGlyphs">10</text>
<line x1="41" y1="476.45" x2="44.5" y2="476.45" stroke="#262626" stroke-width="0.9"/>
<text x="38.1" y="479.56" font-size="8.8" text-anchor="end" font-family='"Liberation Serif", serif' fill="#000" fill-opacity="0.82" textLength="8.3" lengthAdjust="spacingAndGlyphs">15</text>
<line x1="41" y1="437.44" x2="44.5" y2="437.44" stroke="#262626" stroke-width="0.9"/>
<text x="38.1" y="440.54" font-size="8.8" text-anchor="end" font-family='"Liberation Serif", serif' fill="#000" fill-opacity="0.82" textLength="8.3" lengthAdjust="spacingAndGlyphs">20</text>
<line x1="41" y1="398.43" x2="44.5" y2="398.43" stroke="#262626" stroke-width="0.9"/>
<text x="38.1" y="401.53" font-size="8.8" text-anchor="end" font-family='"Liberation Serif", serif' fill="#000" fill-opacity="0.82" textLength="8.3" lengthAdjust="spacingAndGlyphs">25</text>
<line x1="41" y1="359.41" x2="44.5" y2="359.41" stroke="#262626" stroke-width="0.9"/>
<text x="38.1" y="362.51" font-size="8.8" text-anchor="end" font-family='"Liberation Serif", serif' fill="#000" fill-opacity="0.82" textLength="8.3" lengthAdjust="spacingAndGlyphs">30</text>
<text x="191.05" y="626.1" font-size="8.6" text-anchor="middle" font-family='"Liberation Sans", sans-serif' fill="#000" fill-opacity="0.82" textLength="121" lengthAdjust="spacingAndGlyphs">past attack rate (before t = 450)</text>
<text transform="translate(23.4,480.4) rotate(-90)" x="0" y="0" font-size="8.6" text-anchor="middle" font-family='"Liberation Sans", sans-serif' fill="#000" fill-opacity="0.82" textLength="128" lengthAdjust="spacingAndGlyphs">near-future deaths (t = 450 to 650)</text>
<text x="-0.33" y="359.64" font-size="15.5" font-family='"Liberation Sans", sans-serif' fill="#000" fill-opacity="0.85">(</text>
<text x="7.68" y="361" font-size="15.5" font-family='"Liberation Sans", sans-serif' fill="#000" fill-opacity="0.85">c</text>
<text x="17.65" y="359.64" font-size="15.5" font-family='"Liberation Sans", sans-serif' fill="#000" fill-opacity="0.85">)</text>
<rect x="52.2" y="363.7" width="125.6" height="66.9" rx="2" fill="#fff" fill-opacity="0.8" stroke="#d0d0d0" stroke-width="0.9"/>
<text x="115" y="374.3" font-size="8.4" text-anchor="middle" font-family='"Liberation Sans", sans-serif' fill="#000" fill-opacity="0.82" textLength="69.5" lengthAdjust="spacingAndGlyphs">younger population</text>
<circle cx="64.1" cy="384.2" r="4.1" fill="#fff" stroke="#87CEFA" stroke-width="0.9"/>
<text x="79.8" y="387.2" font-size="8.6" text-anchor="start" font-family='"Liberation Sans", sans-serif' fill="#000" fill-opacity="0.82" textLength="52.5" lengthAdjust="spacingAndGlyphs">no vaccination</text>
<circle cx="64.1" cy="397.05" r="4.6" fill="#87CEFA"/>
<text x="79.8" y="400.05" font-size="8.6" text-anchor="start" font-family='"Liberation Sans", sans-serif' fill="#000" fill-opacity="0.82" textLength="94" lengthAdjust="spacingAndGlyphs">20% vaccination coverage</text>
<circle cx="64.1" cy="409.9" r="4.6" fill="#1E90FF"/>
<text x="79.8" y="412.9" font-size="8.6" text-anchor="start" font-family='"Liberation Sans", sans-serif' fill="#000" fill-opacity="0.82" textLength="94" lengthAdjust="spacingAndGlyphs">50% vaccination coverage</text>
<circle cx="64.1" cy="422.75" r="4.6" fill="#000080"/>
<text x="79.8" y="425.75" font-size="8.6" text-anchor="start" font-family='"Liberation Sans", sans-serif' fill="#000" fill-opacity="0.82" textLength="94" lengthAdjust="spacingAndGlyphs">80% vaccination coverage</text>
<rect x="388.9" y="359.4" width="4.5" height="241.8" fill="#e5e5e5"/>
<rect x="440.62" y="359.4" width="47.22" height="241.8" fill="#e5e5e5"/>
<rect x="535.05" y="359.4" width="47.22" height="241.8" fill="#e5e5e5"/>
<rect x="629.48" y="359.4" width="47.22" height="241.8" fill="#e5e5e5"/>
<line x1="393.4" y1="359.4" x2="393.4" y2="601.2" stroke="#8f8f8f" stroke-width="1"/>
<line x1="440.62" y1="359.4" x2="440.62" y2="601.2" stroke="#8f8f8f" stroke-width="1"/>
<line x1="487.83" y1="359.4" x2="487.83" y2="601.2" stroke="#8f8f8f" stroke-width="1"/>
<line x1="535.05" y1="359.4" x2="535.05" y2="601.2" stroke="#8f8f8f" stroke-width="1"/>
<line x1="582.27" y1="359.4" x2="582.27" y2="601.2" stroke="#8f8f8f" stroke-width="1"/>
<line x1="629.48" y1="359.4" x2="629.48" y2="601.2" stroke="#8f8f8f" stroke-width="1"/>
<line x1="676.7" y1="359.4" x2="676.7" y2="601.2" stroke="#8f8f8f" stroke-width="1"/>
<line x1="388.9" y1="593.3" x2="681.4" y2="593.3" stroke="#8f8f8f" stroke-width="1"/>
<line x1="388.9" y1="554.31" x2="681.4" y2="554.31" stroke="#8f8f8f" stroke-width="1"/>
<line x1="388.9" y1="515.33" x2="681.4" y2="515.33" stroke="#8f8f8f" stroke-width="1"/>
<line x1="388.9" y1="476.34" x2="681.4" y2="476.34" stroke="#8f8f8f" stroke-width="1"/>
<line x1="388.9" y1="437.36" x2="681.4" y2="437.36" stroke="#8f8f8f" stroke-width="1"/>
<line x1="388.9" y1="398.38" x2="681.4" y2="398.38" stroke="#8f8f8f" stroke-width="1"/>
<line x1="388.9" y1="359.39" x2="681.4" y2="359.39" stroke="#8f8f8f" stroke-width="1"/>
<g id="ptsd"></g>
<g fill="#fff" fill-opacity="0.85" stroke="#FA8072" stroke-opacity="0.85" stroke-width="0.8"><circle cx="519.4" cy="593.3" r="2.6"/><circle cx="520.5" cy="585.5" r="2.6"/><circle cx="428.5" cy="562.11" r="2.6"/><circle cx="494.2" cy="562.11" r="2.6"/><circle cx="549.1" cy="562.11" r="2.6"/><circle cx="575" cy="562.11" r="2.6"/><circle cx="651.4" cy="562.11" r="2.6"/><circle cx="417.6" cy="554.31" r="2.6"/><circle cx="441" cy="554.31" r="2.6"/><circle cx="494.2" cy="554.31" r="2.6"/><circle cx="519.4" cy="554.31" r="2.6"/><circle cx="522.7" cy="554.31" r="2.6"/><circle cx="532.5" cy="554.31" r="2.6"/><circle cx="548" cy="554.31" r="2.6"/><circle cx="575" cy="554.31" r="2.6"/><circle cx="607.6" cy="554.31" r="2.6"/><circle cx="417.5" cy="546.52" r="2.6"/><circle cx="420.5" cy="546.52" r="2.6"/><circle cx="429.6" cy="546.52" r="2.6"/><circle cx="472.1" cy="546.52" r="2.6"/><circle cx="485.7" cy="546.52" r="2.6"/><circle cx="494" cy="546.52" r="2.6"/><circle cx="522.8" cy="546.52" r="2.6"/><circle cx="548.6" cy="546.52" r="2.6"/><circle cx="575.1" cy="546.52" r="2.6"/><circle cx="577.4" cy="546.52" r="2.6"/><circle cx="601.6" cy="546.52" r="2.6"/><circle cx="618.2" cy="546.52" r="2.6"/><circle cx="628.4" cy="546.52" r="2.6"/><circle cx="648.7" cy="546.52" r="2.6"/><circle cx="677.1" cy="546.52" r="2.6"/><circle cx="420.1" cy="538.72" r="2.6"/><circle cx="428.1" cy="538.72" r="2.6"/><circle cx="467.6" cy="538.72" r="2.6"/><circle cx="476.6" cy="538.72" r="2.6"/><circle cx="520.5" cy="538.72" r="2.6"/><circle cx="528.8" cy="538.72" r="2.6"/><circle cx="551.7" cy="538.72" r="2.6"/><circle cx="575.1" cy="538.72" r="2.6"/><circle cx="626.3" cy="538.72" r="2.6"/><circle cx="429.1" cy="530.92" r="2.6"/><circle cx="440.9" cy="530.92" r="2.6"/><circle cx="477.4" cy="530.92" r="2.6"/><circle cx="494" cy="530.92" r="2.6"/><circle cx="519.7" cy="530.92" r="2.6"/><circle cx="539.6" cy="530.92" r="2.6"/><circle cx="647.3" cy="530.92" r="2.6"/><circle cx="649.3" cy="530.92" r="2.6"/><circle cx="515.2" cy="523.13" r="2.6"/><circle cx="553.9" cy="523.13" r="2.6"/><circle cx="648.7" cy="523.13" r="2.6"/><circle cx="605.8" cy="515.33" r="2.6"/><circle cx="660.1" cy="515.33" r="2.6"/><circle cx="674.7" cy="515.33" r="2.6"/><circle cx="661.3" cy="507.53" r="2.6"/><circle cx="670.9" cy="507.53" r="2.6"/><circle cx="674.7" cy="507.53" r="2.6"/></g>
<g fill="#FA8072" fill-opacity="0.8"><circle cx="498.6" cy="593.3" r="3.0"/><circle cx="500.2" cy="585.5" r="3.0"/><circle cx="500.2" cy="577.71" r="3.0"/><circle cx="409.9" cy="562.11" r="3.0"/><circle cx="423" cy="562.11" r="3.0"/><circle cx="497.5" cy="562.11" r="3.0"/><circle cx="521.6" cy="562.11" r="3.0"/><circle cx="523.8" cy="562.11" r="3.0"/><circle cx="526" cy="562.11" r="3.0"/><circle cx="629" cy="562.11" r="3.0"/><circle cx="409.9" cy="554.31" r="3.0"/><circle cx="420.8" cy="554.31" r="3.0"/><circle cx="465.9" cy="554.31" r="3.0"/><circle cx="467.9" cy="554.31" r="3.0"/><circle cx="469.9" cy="554.31" r="3.0"/><circle cx="528.1" cy="554.31" r="3.0"/><circle cx="530" cy="554.31" r="3.0"/><circle cx="551.4" cy="554.31" r="3.0"/><circle cx="563.7" cy="554.31" r="3.0"/><circle cx="586.2" cy="554.31" r="3.0"/><circle cx="629.1" cy="554.31" r="3.0"/><circle cx="631.63" cy="554.31" r="3.0"/><circle cx="634.16" cy="554.31" r="3.0"/><circle cx="636.69" cy="554.31" r="3.0"/><circle cx="639.21" cy="554.31" r="3.0"/><circle cx="641.74" cy="554.31" r="3.0"/><circle cx="644.27" cy="554.31" r="3.0"/><circle cx="646.8" cy="554.31" r="3.0"/><circle cx="662.8" cy="554.31" r="3.0"/><circle cx="665" cy="554.31" r="3.0"/><circle cx="667.2" cy="554.31" r="3.0"/><circle cx="669.4" cy="554.31" r="3.0"/><circle cx="671.6" cy="554.31" r="3.0"/><circle cx="673.8" cy="554.31" r="3.0"/><circle cx="676" cy="554.31" r="3.0"/><circle cx="399.8" cy="546.52" r="3.0"/><circle cx="404.6" cy="546.52" r="3.0"/><circle cx="431.9" cy="546.52" r="3.0"/><circle cx="444" cy="546.52" r="3.0"/><circle cx="457.6" cy="546.52" r="3.0"/><circle cx="461.3" cy="546.52" r="3.0"/><circle cx="462.3" cy="546.52" r="3.0"/><circle cx="469.1" cy="546.52" r="3.0"/><circle cx="503.1" cy="546.52" r="3.0"/><circle cx="550.9" cy="546.52" r="3.0"/><circle cx="556.2" cy="546.52" r="3.0"/><circle cx="558.45" cy="546.52" r="3.0"/><circle cx="560.7" cy="546.52" r="3.0"/><circle cx="582.8" cy="546.52" r="3.0"/><circle cx="584.95" cy="546.52" r="3.0"/><circle cx="587.1" cy="546.52" r="3.0"/><circle cx="603.8" cy="546.52" r="3.0"/><circle cx="604" cy="546.52" r="3.0"/><circle cx="636.2" cy="546.52" r="3.0"/><circle cx="638.2" cy="546.52" r="3.0"/><circle cx="640.2" cy="546.52" r="3.0"/><circle cx="642.2" cy="546.52" r="3.0"/><circle cx="656.5" cy="546.52" r="3.0"/><circle cx="659.8" cy="546.52" r="3.0"/><circle cx="668.3" cy="546.52" r="3.0"/><circle cx="670.57" cy="546.52" r="3.0"/><circle cx="672.83" cy="546.52" r="3.0"/><circle cx="675.1" cy="546.52" r="3.0"/><circle cx="400.1" cy="538.72" r="3.0"/><circle cx="430.3" cy="538.72" r="3.0"/><circle cx="503.1" cy="538.72" r="3.0"/><circle cx="536.5" cy="538.72" r="3.0"/><circle cx="565.3" cy="538.72" r="3.0"/><circle cx="583.4" cy="538.72" r="3.0"/><circle cx="600" cy="538.72" r="3.0"/><circle cx="603.1" cy="538.72" r="3.0"/><circle cx="604" cy="538.72" r="3.0"/><circle cx="639.9" cy="538.72" r="3.0"/><circle cx="641.93" cy="538.72" r="3.0"/><circle cx="643.97" cy="538.72" r="3.0"/><circle cx="646" cy="538.72" r="3.0"/><circle cx="657.2" cy="538.72" r="3.0"/><circle cx="659.85" cy="538.72" r="3.0"/><circle cx="662.5" cy="538.72" r="3.0"/><circle cx="667.6" cy="538.72" r="3.0"/><circle cx="670.3" cy="538.72" r="3.0"/><circle cx="673" cy="538.72" r="3.0"/><circle cx="409.9" cy="530.92" r="3.0"/><circle cx="466.8" cy="530.92" r="3.0"/><circle cx="527.3" cy="530.92" r="3.0"/><circle cx="534.1" cy="530.92" r="3.0"/><circle cx="535" cy="530.92" r="3.0"/><circle cx="601.6" cy="530.92" r="3.0"/><circle cx="628.4" cy="530.92" r="3.0"/><circle cx="637.2" cy="530.92" r="3.0"/><circle cx="639.67" cy="530.92" r="3.0"/><circle cx="642.13" cy="530.92" r="3.0"/><circle cx="644.6" cy="530.92" r="3.0"/><circle cx="656.5" cy="530.92" r="3.0"/><circle cx="659.5" cy="530.92" r="3.0"/><circle cx="662.5" cy="530.92" r="3.0"/><circle cx="670" cy="530.92" r="3.0"/><circle cx="672.7" cy="530.92" r="3.0"/><circle cx="675.4" cy="530.92" r="3.0"/><circle cx="560.4" cy="523.13" r="3.0"/><circle cx="634.5" cy="523.13" r="3.0"/><circle cx="639.9" cy="523.13" r="3.0"/><circle cx="641.93" cy="523.13" r="3.0"/><circle cx="643.97" cy="523.13" r="3.0"/><circle cx="646" cy="523.13" r="3.0"/><circle cx="656.5" cy="523.13" r="3.0"/><circle cx="659.5" cy="523.13" r="3.0"/><circle cx="662.5" cy="523.13" r="3.0"/><circle cx="670" cy="523.13" r="3.0"/><circle cx="672.35" cy="523.13" r="3.0"/><circle cx="674.7" cy="523.13" r="3.0"/><circle cx="656.2" cy="515.33" r="3.0"/><circle cx="668.3" cy="515.33" r="3.0"/><circle cx="670.25" cy="515.33" r="3.0"/><circle cx="672.2" cy="515.33" r="3.0"/><circle cx="655.4" cy="515.33" r="3.0"/><circle cx="657.67" cy="515.33" r="3.0"/><circle cx="659.93" cy="515.33" r="3.0"/><circle cx="662.2" cy="515.33" r="3.0"/><circle cx="669" cy="515.33" r="3.0"/><circle cx="671.23" cy="515.33" r="3.0"/><circle cx="673.47" cy="515.33" r="3.0"/><circle cx="675.7" cy="515.33" r="3.0"/><circle cx="640.9" cy="507.53" r="3.0"/><circle cx="645.4" cy="507.53" r="3.0"/><circle cx="654.3" cy="507.53" r="3.0"/><circle cx="656.9" cy="507.53" r="3.0"/><circle cx="673.4" cy="499.74" r="3.0"/><circle cx="671.5" cy="491.94" r="3.0"/><circle cx="674.7" cy="491.94" r="3.0"/><circle cx="660.9" cy="484.14" r="3.0"/><circle cx="671.5" cy="484.14" r="3.0"/><circle cx="671.3" cy="452.95" r="3.0"/></g>
<g fill="#FF0000" fill-opacity="0.8"><circle cx="410.1" cy="593.3" r="3.0"/><circle cx="412.5" cy="593.3" r="3.0"/><circle cx="414.9" cy="593.3" r="3.0"/><circle cx="417.3" cy="593.3" r="3.0"/><circle cx="543.3" cy="593.3" r="3.0"/><circle cx="409.8" cy="585.5" r="3.0"/><circle cx="450.3" cy="585.5" r="3.0"/><circle cx="546.9" cy="585.5" r="3.0"/><circle cx="582.8" cy="585.5" r="3.0"/><circle cx="599.7" cy="585.5" r="3.0"/><circle cx="414" cy="577.71" r="3.0"/><circle cx="450.3" cy="577.71" r="3.0"/><circle cx="519.4" cy="577.71" r="3.0"/><circle cx="546.9" cy="577.71" r="3.0"/><circle cx="600.8" cy="577.71" r="3.0"/><circle cx="407.7" cy="569.91" r="3.0"/><circle cx="409.9" cy="569.91" r="3.0"/><circle cx="412.1" cy="569.91" r="3.0"/><circle cx="414.3" cy="569.91" r="3.0"/><circle cx="428.5" cy="569.91" r="3.0"/><circle cx="444.1" cy="569.91" r="3.0"/><circle cx="446.6" cy="569.91" r="3.0"/><circle cx="449.1" cy="569.91" r="3.0"/><circle cx="465.7" cy="569.91" r="3.0"/><circle cx="496.4" cy="569.91" r="3.0"/><circle cx="513.9" cy="569.91" r="3.0"/><circle cx="524.9" cy="569.91" r="3.0"/><circle cx="546.9" cy="569.91" r="3.0"/><circle cx="580.7" cy="569.91" r="3.0"/><circle cx="583.4" cy="569.91" r="3.0"/><circle cx="586.1" cy="569.91" r="3.0"/><circle cx="612.2" cy="569.91" r="3.0"/><circle cx="614.9" cy="569.91" r="3.0"/><circle cx="617.6" cy="569.91" r="3.0"/><circle cx="660.4" cy="569.91" r="3.0"/><circle cx="395.7" cy="562.11" r="3.0"/><circle cx="416.5" cy="562.11" r="3.0"/><circle cx="443.8" cy="562.11" r="3.0"/><circle cx="451.5" cy="562.11" r="3.0"/><circle cx="466.8" cy="562.11" r="3.0"/><circle cx="475.6" cy="562.11" r="3.0"/><circle cx="482.2" cy="562.11" r="3.0"/><circle cx="531.4" cy="562.11" r="3.0"/><circle cx="532.4" cy="562.11" r="3.0"/><circle cx="534.53" cy="562.11" r="3.0"/><circle cx="536.67" cy="562.11" r="3.0"/><circle cx="538.8" cy="562.11" r="3.0"/><circle cx="568.2" cy="562.11" r="3.0"/><circle cx="595.2" cy="562.11" r="3.0"/><circle cx="601.9" cy="562.11" r="3.0"/><circle cx="630" cy="562.11" r="3.0"/><circle cx="667.1" cy="562.11" r="3.0"/><circle cx="397.9" cy="554.31" r="3.0"/><circle cx="437.3" cy="554.31" r="3.0"/><circle cx="447.1" cy="554.31" r="3.0"/><circle cx="476.7" cy="554.31" r="3.0"/><circle cx="484.3" cy="554.31" r="3.0"/><circle cx="506.2" cy="554.31" r="3.0"/><circle cx="513.9" cy="554.31" r="3.0"/><circle cx="536.7" cy="554.31" r="3.0"/><circle cx="558.1" cy="554.31" r="3.0"/><circle cx="580.6" cy="554.31" r="3.0"/><circle cx="600.8" cy="554.31" r="3.0"/><circle cx="595.5" cy="546.52" r="3.0"/><circle cx="619.6" cy="546.52" r="3.0"/><circle cx="577.4" cy="538.72" r="3.0"/><circle cx="617.5" cy="538.72" r="3.0"/><circle cx="676.4" cy="538.72" r="3.0"/></g>
<g fill="#B22222" fill-opacity="0.8"><circle cx="394.8" cy="593.3" r="3.0"/><circle cx="397.42" cy="593.3" r="3.0"/><circle cx="400.05" cy="593.3" r="3.0"/><circle cx="402.68" cy="593.3" r="3.0"/><circle cx="405.3" cy="593.3" r="3.0"/><circle cx="424.3" cy="593.3" r="3.0"/><circle cx="426.71" cy="593.3" r="3.0"/><circle cx="429.12" cy="593.3" r="3.0"/><circle cx="431.54" cy="593.3" r="3.0"/><circle cx="433.95" cy="593.3" r="3.0"/><circle cx="436.36" cy="593.3" r="3.0"/><circle cx="438.77" cy="593.3" r="3.0"/><circle cx="441.19" cy="593.3" r="3.0"/><circle cx="443.6" cy="593.3" r="3.0"/><circle cx="449.5" cy="593.3" r="3.0"/><circle cx="451.91" cy="593.3" r="3.0"/><circle cx="454.32" cy="593.3" r="3.0"/><circle cx="456.73" cy="593.3" r="3.0"/><circle cx="459.14" cy="593.3" r="3.0"/><circle cx="461.56" cy="593.3" r="3.0"/><circle cx="463.97" cy="593.3" r="3.0"/><circle cx="466.38" cy="593.3" r="3.0"/><circle cx="468.79" cy="593.3" r="3.0"/><circle cx="471.2" cy="593.3" r="3.0"/><circle cx="473.61" cy="593.3" r="3.0"/><circle cx="476.02" cy="593.3" r="3.0"/><circle cx="478.43" cy="593.3" r="3.0"/><circle cx="480.84" cy="593.3" r="3.0"/><circle cx="483.26" cy="593.3" r="3.0"/><circle cx="485.67" cy="593.3" r="3.0"/><circle cx="488.08" cy="593.3" r="3.0"/><circle cx="490.49" cy="593.3" r="3.0"/><circle cx="492.9" cy="593.3" r="3.0"/><circle cx="503.2" cy="593.3" r="3.0"/><circle cx="505.82" cy="593.3" r="3.0"/><circle cx="508.45" cy="593.3" r="3.0"/><circle cx="511.08" cy="593.3" r="3.0"/><circle cx="513.7" cy="593.3" r="3.0"/><circle cx="522.9" cy="593.3" r="3.0"/><circle cx="525.17" cy="593.3" r="3.0"/><circle cx="527.45" cy="593.3" r="3.0"/><circle cx="529.73" cy="593.3" r="3.0"/><circle cx="532" cy="593.3" r="3.0"/><circle cx="534.27" cy="593.3" r="3.0"/><circle cx="536.55" cy="593.3" r="3.0"/><circle cx="538.83" cy="593.3" r="3.0"/><circle cx="541.1" cy="593.3" r="3.0"/><circle cx="552.6" cy="593.3" r="3.0"/><circle cx="555.02" cy="593.3" r="3.0"/><circle cx="557.44" cy="593.3" r="3.0"/><circle cx="559.86" cy="593.3" r="3.0"/><circle cx="562.28" cy="593.3" r="3.0"/><circle cx="564.7" cy="593.3" r="3.0"/><circle cx="567.12" cy="593.3" r="3.0"/><circle cx="569.54" cy="593.3" r="3.0"/><circle cx="571.96" cy="593.3" r="3.0"/><circle cx="574.38" cy="593.3" r="3.0"/><circle cx="576.8" cy="593.3" r="3.0"/><circle cx="579.22" cy="593.3" r="3.0"/><circle cx="581.64" cy="593.3" r="3.0"/><circle cx="584.05" cy="593.3" r="3.0"/><circle cx="586.47" cy="593.3" r="3.0"/><circle cx="588.89" cy="593.3" r="3.0"/><circle cx="591.31" cy="593.3" r="3.0"/><circle cx="593.73" cy="593.3" r="3.0"/><circle cx="596.15" cy="593.3" r="3.0"/><circle cx="598.57" cy="593.3" r="3.0"/><circle cx="600.99" cy="593.3" r="3.0"/><circle cx="603.41" cy="593.3" r="3.0"/><circle cx="605.83" cy="593.3" r="3.0"/><circle cx="608.25" cy="593.3" r="3.0"/><circle cx="610.67" cy="593.3" r="3.0"/><circle cx="613.09" cy="593.3" r="3.0"/><circle cx="615.51" cy="593.3" r="3.0"/><circle cx="617.93" cy="593.3" r="3.0"/><circle cx="620.35" cy="593.3" r="3.0"/><circle cx="622.77" cy="593.3" r="3.0"/><circle cx="625.19" cy="593.3" r="3.0"/><circle cx="627.61" cy="593.3" r="3.0"/><circle cx="630.03" cy="593.3" r="3.0"/><circle cx="632.45" cy="593.3" r="3.0"/><circle cx="634.87" cy="593.3" r="3.0"/><circle cx="637.29" cy="593.3" r="3.0"/><circle cx="639.71" cy="593.3" r="3.0"/><circle cx="642.13" cy="593.3" r="3.0"/><circle cx="644.55" cy="593.3" r="3.0"/><circle cx="646.96" cy="593.3" r="3.0"/><circle cx="649.38" cy="593.3" r="3.0"/><circle cx="651.8" cy="593.3" r="3.0"/><circle cx="654.22" cy="593.3" r="3.0"/><circle cx="656.64" cy="593.3" r="3.0"/><circle cx="659.06" cy="593.3" r="3.0"/><circle cx="661.48" cy="593.3" r="3.0"/><circle cx="663.9" cy="593.3" r="3.0"/><circle cx="666.32" cy="593.3" r="3.0"/><circle cx="668.74" cy="593.3" r="3.0"/><circle cx="671.16" cy="593.3" r="3.0"/><circle cx="673.58" cy="593.3" r="3.0"/><circle cx="676" cy="593.3" r="3.0"/><circle cx="394.8" cy="585.5" r="3.0"/><circle cx="397.2" cy="585.5" r="3.0"/><circle cx="399.6" cy="585.5" r="3.0"/><circle cx="402" cy="585.5" r="3.0"/><circle cx="404.4" cy="585.5" r="3.0"/><circle cx="406.8" cy="585.5" r="3.0"/><circle cx="409.2" cy="585.5" r="3.0"/><circle cx="411.6" cy="585.5" r="3.0"/><circle cx="414" cy="585.5" r="3.0"/><circle cx="416.4" cy="585.5" r="3.0"/><circle cx="418.8" cy="585.5" r="3.0"/><circle cx="421.2" cy="585.5" r="3.0"/><circle cx="423.6" cy="585.5" r="3.0"/><circle cx="426" cy="585.5" r="3.0"/><circle cx="428.4" cy="585.5" r="3.0"/><circle cx="430.8" cy="585.5" r="3.0"/><circle cx="433.2" cy="585.5" r="3.0"/><circle cx="435.6" cy="585.5" r="3.0"/><circle cx="438" cy="585.5" r="3.0"/><circle cx="440.4" cy="585.5" r="3.0"/><circle cx="442.8" cy="585.5" r="3.0"/><circle cx="445.2" cy="585.5" r="3.0"/><circle cx="447.6" cy="585.5" r="3.0"/><circle cx="450" cy="585.5" r="3.0"/><circle cx="452.4" cy="585.5" r="3.0"/><circle cx="454.8" cy="585.5" r="3.0"/><circle cx="457.2" cy="585.5" r="3.0"/><circle cx="459.6" cy="585.5" r="3.0"/><circle cx="462" cy="585.5" r="3.0"/><circle cx="464.4" cy="585.5" r="3.0"/><circle cx="466.8" cy="585.5" r="3.0"/><circle cx="469.2" cy="585.5" r="3.0"/><circle cx="471.6" cy="585.5" r="3.0"/><circle cx="474" cy="585.5" r="3.0"/><circle cx="476.4" cy="585.5" r="3.0"/><circle cx="478.8" cy="585.5" r="3.0"/><circle cx="481.2" cy="585.5" r="3.0"/><circle cx="483.6" cy="585.5" r="3.0"/><circle cx="486" cy="585.5" r="3.0"/><circle cx="488.4" cy="585.5" r="3.0"/><circle cx="490.8" cy="585.5" r="3.0"/><circle cx="493.2" cy="585.5" r="3.0"/><circle cx="495.6" cy="585.5" r="3.0"/><circle cx="505.4" cy="585.5" r="3.0"/><circle cx="507.62" cy="585.5" r="3.0"/><circle cx="509.85" cy="585.5" r="3.0"/><circle cx="512.08" cy="585.5" r="3.0"/><circle cx="514.3" cy="585.5" r="3.0"/><circle cx="525.4" cy="585.5" r="3.0"/><circle cx="527.64" cy="585.5" r="3.0"/><circle cx="529.89" cy="585.5" r="3.0"/><circle cx="532.13" cy="585.5" r="3.0"/><circle cx="534.37" cy="585.5" r="3.0"/><circle cx="536.61" cy="585.5" r="3.0"/><circle cx="538.86" cy="585.5" r="3.0"/><circle cx="541.1" cy="585.5" r="3.0"/><circle cx="552.6" cy="585.5" r="3.0"/><circle cx="555.03" cy="585.5" r="3.0"/><circle cx="557.45" cy="585.5" r="3.0"/><circle cx="559.88" cy="585.5" r="3.0"/><circle cx="562.31" cy="585.5" r="3.0"/><circle cx="564.74" cy="585.5" r="3.0"/><circle cx="567.16" cy="585.5" r="3.0"/><circle cx="569.59" cy="585.5" r="3.0"/><circle cx="572.02" cy="585.5" r="3.0"/><circle cx="574.45" cy="585.5" r="3.0"/><circle cx="576.87" cy="585.5" r="3.0"/><circle cx="579.3" cy="585.5" r="3.0"/><circle cx="586.4" cy="585.5" r="3.0"/><circle cx="588.55" cy="585.5" r="3.0"/><circle cx="590.7" cy="585.5" r="3.0"/><circle cx="592.85" cy="585.5" r="3.0"/><circle cx="595" cy="585.5" r="3.0"/><circle cx="604.4" cy="585.5" r="3.0"/><circle cx="606.79" cy="585.5" r="3.0"/><circle cx="609.17" cy="585.5" r="3.0"/><circle cx="611.56" cy="585.5" r="3.0"/><circle cx="613.95" cy="585.5" r="3.0"/><circle cx="616.33" cy="585.5" r="3.0"/><circle cx="618.72" cy="585.5" r="3.0"/><circle cx="621.11" cy="585.5" r="3.0"/><circle cx="623.49" cy="585.5" r="3.0"/><circle cx="625.88" cy="585.5" r="3.0"/><circle cx="628.27" cy="585.5" r="3.0"/><circle cx="630.65" cy="585.5" r="3.0"/><circle cx="633.04" cy="585.5" r="3.0"/><circle cx="635.43" cy="585.5" r="3.0"/><circle cx="637.81" cy="585.5" r="3.0"/><circle cx="640.2" cy="585.5" r="3.0"/><circle cx="642.59" cy="585.5" r="3.0"/><circle cx="644.97" cy="585.5" r="3.0"/><circle cx="647.36" cy="585.5" r="3.0"/><circle cx="649.75" cy="585.5" r="3.0"/><circle cx="652.13" cy="585.5" r="3.0"/><circle cx="654.52" cy="585.5" r="3.0"/><circle cx="656.91" cy="585.5" r="3.0"/><circle cx="659.29" cy="585.5" r="3.0"/><circle cx="661.68" cy="585.5" r="3.0"/><circle cx="664.07" cy="585.5" r="3.0"/><circle cx="666.45" cy="585.5" r="3.0"/><circle cx="668.84" cy="585.5" r="3.0"/><circle cx="671.23" cy="585.5" r="3.0"/><circle cx="673.61" cy="585.5" r="3.0"/><circle cx="676" cy="585.5" r="3.0"/><circle cx="394.8" cy="577.71" r="3.0"/><circle cx="397.18" cy="577.71" r="3.0"/><circle cx="399.55" cy="577.71" r="3.0"/><circle cx="401.93" cy="577.71" r="3.0"/><circle cx="404.3" cy="577.71" r="3.0"/><circle cx="406.68" cy="577.71" r="3.0"/><circle cx="409.06" cy="577.71" r="3.0"/><circle cx="411.43" cy="577.71" r="3.0"/><circle cx="413.81" cy="577.71" r="3.0"/><circle cx="416.18" cy="577.71" r="3.0"/><circle cx="418.56" cy="577.71" r="3.0"/><circle cx="420.94" cy="577.71" r="3.0"/><circle cx="423.31" cy="577.71" r="3.0"/><circle cx="425.69" cy="577.71" r="3.0"/><circle cx="428.06" cy="577.71" r="3.0"/><circle cx="430.44" cy="577.71" r="3.0"/><circle cx="432.82" cy="577.71" r="3.0"/><circle cx="435.19" cy="577.71" r="3.0"/><circle cx="437.57" cy="577.71" r="3.0"/><circle cx="439.94" cy="577.71" r="3.0"/><circle cx="442.32" cy="577.71" r="3.0"/><circle cx="444.7" cy="577.71" r="3.0"/><circle cx="447.07" cy="577.71" r="3.0"/><circle cx="449.45" cy="577.71" r="3.0"/><circle cx="451.82" cy="577.71" r="3.0"/><circle cx="454.2" cy="577.71" r="3.0"/><circle cx="456.58" cy="577.71" r="3.0"/><circle cx="458.95" cy="577.71" r="3.0"/><circle cx="461.33" cy="577.71" r="3.0"/><circle cx="463.7" cy="577.71" r="3.0"/><circle cx="466.08" cy="577.71" r="3.0"/><circle cx="468.46" cy="577.71" r="3.0"/><circle cx="470.83" cy="577.71" r="3.0"/><circle cx="473.21" cy="577.71" r="3.0"/><circle cx="475.58" cy="577.71" r="3.0"/><circle cx="477.96" cy="577.71" r="3.0"/><circle cx="480.34" cy="577.71" r="3.0"/><circle cx="482.71" cy="577.71" r="3.0"/><circle cx="485.09" cy="577.71" r="3.0"/><circle cx="487.46" cy="577.71" r="3.0"/><circle cx="489.84" cy="577.71" r="3.0"/><circle cx="492.22" cy="577.71" r="3.0"/><circle cx="494.59" cy="577.71" r="3.0"/><circle cx="496.97" cy="577.71" r="3.0"/><circle cx="499.34" cy="577.71" r="3.0"/><circle cx="501.72" cy="577.71" r="3.0"/><circle cx="504.1" cy="577.71" r="3.0"/><circle cx="506.47" cy="577.71" r="3.0"/><circle cx="508.85" cy="577.71" r="3.0"/><circle cx="511.22" cy="577.71" r="3.0"/><circle cx="513.6" cy="577.71" r="3.0"/><circle cx="524.2" cy="577.71" r="3.0"/><circle cx="526.61" cy="577.71" r="3.0"/><circle cx="529.03" cy="577.71" r="3.0"/><circle cx="531.44" cy="577.71" r="3.0"/><circle cx="533.86" cy="577.71" r="3.0"/><circle cx="536.27" cy="577.71" r="3.0"/><circle cx="538.69" cy="577.71" r="3.0"/><circle cx="541.1" cy="577.71" r="3.0"/><circle cx="552.6" cy="577.71" r="3.0"/><circle cx="554.96" cy="577.71" r="3.0"/><circle cx="557.31" cy="577.71" r="3.0"/><circle cx="559.67" cy="577.71" r="3.0"/><circle cx="562.02" cy="577.71" r="3.0"/><circle cx="564.38" cy="577.71" r="3.0"/><circle cx="566.73" cy="577.71" r="3.0"/><circle cx="569.09" cy="577.71" r="3.0"/><circle cx="571.44" cy="577.71" r="3.0"/><circle cx="573.8" cy="577.71" r="3.0"/><circle cx="576.16" cy="577.71" r="3.0"/><circle cx="578.51" cy="577.71" r="3.0"/><circle cx="580.87" cy="577.71" r="3.0"/><circle cx="583.22" cy="577.71" r="3.0"/><circle cx="585.58" cy="577.71" r="3.0"/><circle cx="587.93" cy="577.71" r="3.0"/><circle cx="590.29" cy="577.71" r="3.0"/><circle cx="592.64" cy="577.71" r="3.0"/><circle cx="595" cy="577.71" r="3.0"/><circle cx="604.4" cy="577.71" r="3.0"/><circle cx="606.79" cy="577.71" r="3.0"/><circle cx="609.17" cy="577.71" r="3.0"/><circle cx="611.56" cy="577.71" r="3.0"/><circle cx="613.95" cy="577.71" r="3.0"/><circle cx="616.33" cy="577.71" r="3.0"/><circle cx="618.72" cy="577.71" r="3.0"/><circle cx="621.11" cy="577.71" r="3.0"/><circle cx="623.49" cy="577.71" r="3.0"/><circle cx="625.88" cy="577.71" r="3.0"/><circle cx="628.27" cy="577.71" r="3.0"/><circle cx="630.65" cy="577.71" r="3.0"/><circle cx="633.04" cy="577.71" r="3.0"/><circle cx="635.43" cy="577.71" r="3.0"/><circle cx="637.81" cy="577.71" r="3.0"/><circle cx="640.2" cy="577.71" r="3.0"/><circle cx="642.59" cy="577.71" r="3.0"/><circle cx="644.97" cy="577.71" r="3.0"/><circle cx="647.36" cy="577.71" r="3.0"/><circle cx="649.75" cy="577.71" r="3.0"/><circle cx="652.13" cy="577.71" r="3.0"/><circle cx="654.52" cy="577.71" r="3.0"/><circle cx="656.91" cy="577.71" r="3.0"/><circle cx="659.29" cy="577.71" r="3.0"/><circle cx="661.68" cy="577.71" r="3.0"/><circle cx="664.07" cy="577.71" r="3.0"/><circle cx="666.45" cy="577.71" r="3.0"/><circle cx="668.84" cy="577.71" r="3.0"/><circle cx="671.23" cy="577.71" r="3.0"/><circle cx="673.61" cy="577.71" r="3.0"/><circle cx="676" cy="577.71" r="3.0"/><circle cx="394.8" cy="569.91" r="3.0"/><circle cx="397.15" cy="569.91" r="3.0"/><circle cx="399.5" cy="569.91" r="3.0"/><circle cx="401.85" cy="569.91" r="3.0"/><circle cx="404.2" cy="569.91" r="3.0"/><circle cx="417.4" cy="569.91" r="3.0"/><circle cx="419.95" cy="569.91" r="3.0"/><circle cx="422.5" cy="569.91" r="3.0"/><circle cx="425.05" cy="569.91" r="3.0"/><circle cx="427.6" cy="569.91" r="3.0"/><circle cx="431.8" cy="569.91" r="3.0"/><circle cx="434.37" cy="569.91" r="3.0"/><circle cx="436.93" cy="569.91" r="3.0"/><circle cx="439.5" cy="569.91" r="3.0"/><circle cx="458.3" cy="569.91" r="3.0"/><circle cx="460.25" cy="569.91" r="3.0"/><circle cx="462.2" cy="569.91" r="3.0"/><circle cx="472.4" cy="569.91" r="3.0"/><circle cx="475" cy="569.91" r="3.0"/><circle cx="477.6" cy="569.91" r="3.0"/><circle cx="486.7" cy="569.91" r="3.0"/><circle cx="488.7" cy="569.91" r="3.0"/><circle cx="490.7" cy="569.91" r="3.0"/><circle cx="504.3" cy="569.91" r="3.0"/><circle cx="506.25" cy="569.91" r="3.0"/><circle cx="508.2" cy="569.91" r="3.0"/><circle cx="521.6" cy="569.91" r="3.0"/><circle cx="530.5" cy="569.91" r="3.0"/><circle cx="533.15" cy="569.91" r="3.0"/><circle cx="535.8" cy="569.91" r="3.0"/><circle cx="538.45" cy="569.91" r="3.0"/><circle cx="541.1" cy="569.91" r="3.0"/><circle cx="554.9" cy="569.91" r="3.0"/><circle cx="557.47" cy="569.91" r="3.0"/><circle cx="560.03" cy="569.91" r="3.0"/><circle cx="562.6" cy="569.91" r="3.0"/><circle cx="565.17" cy="569.91" r="3.0"/><circle cx="567.73" cy="569.91" r="3.0"/><circle cx="570.3" cy="569.91" r="3.0"/><circle cx="595.4" cy="569.91" r="3.0"/><circle cx="597.58" cy="569.91" r="3.0"/><circle cx="599.76" cy="569.91" r="3.0"/><circle cx="601.94" cy="569.91" r="3.0"/><circle cx="604.12" cy="569.91" r="3.0"/><circle cx="606.3" cy="569.91" r="3.0"/><circle cx="626.8" cy="569.91" r="3.0"/><circle cx="629" cy="569.91" r="3.0"/><circle cx="631.2" cy="569.91" r="3.0"/><circle cx="633.4" cy="569.91" r="3.0"/><circle cx="635.6" cy="569.91" r="3.0"/><circle cx="637.8" cy="569.91" r="3.0"/><circle cx="644.7" cy="569.91" r="3.0"/><circle cx="647.3" cy="569.91" r="3.0"/><circle cx="649.9" cy="569.91" r="3.0"/><circle cx="652.5" cy="569.91" r="3.0"/><circle cx="667.3" cy="569.91" r="3.0"/><circle cx="669.47" cy="569.91" r="3.0"/><circle cx="671.65" cy="569.91" r="3.0"/><circle cx="673.83" cy="569.91" r="3.0"/><circle cx="676" cy="569.91" r="3.0"/><circle cx="400" cy="562.11" r="3.0"/><circle cx="434" cy="562.11" r="3.0"/><circle cx="436.2" cy="562.11" r="3.0"/><circle cx="438.4" cy="562.11" r="3.0"/><circle cx="440.6" cy="562.11" r="3.0"/><circle cx="458.1" cy="562.11" r="3.0"/><circle cx="460.27" cy="562.11" r="3.0"/><circle cx="462.43" cy="562.11" r="3.0"/><circle cx="464.6" cy="562.11" r="3.0"/><circle cx="504.3" cy="562.11" r="3.0"/><circle cx="507.07" cy="562.11" r="3.0"/><circle cx="509.83" cy="562.11" r="3.0"/><circle cx="512.6" cy="562.11" r="3.0"/><circle cx="536.9" cy="562.11" r="3.0"/><circle cx="556" cy="562.11" r="3.0"/><circle cx="558.53" cy="562.11" r="3.0"/><circle cx="561.07" cy="562.11" r="3.0"/><circle cx="563.6" cy="562.11" r="3.0"/><circle cx="583" cy="562.11" r="3.0"/><circle cx="585.1" cy="562.11" r="3.0"/><circle cx="587.2" cy="562.11" r="3.0"/><circle cx="606.6" cy="562.11" r="3.0"/><circle cx="609.17" cy="562.11" r="3.0"/><circle cx="611.73" cy="562.11" r="3.0"/><circle cx="614.3" cy="562.11" r="3.0"/><circle cx="616.87" cy="562.11" r="3.0"/><circle cx="619.43" cy="562.11" r="3.0"/><circle cx="622" cy="562.11" r="3.0"/><circle cx="640.3" cy="562.11" r="3.0"/><circle cx="642.95" cy="562.11" r="3.0"/><circle cx="645.6" cy="562.11" r="3.0"/><circle cx="658.3" cy="562.11" r="3.0"/><circle cx="660.4" cy="562.11" r="3.0"/><circle cx="662.5" cy="562.11" r="3.0"/><circle cx="671.8" cy="562.11" r="3.0"/><circle cx="673.9" cy="562.11" r="3.0"/><circle cx="676" cy="562.11" r="3.0"/><circle cx="428.5" cy="554.31" r="3.0"/><circle cx="430.7" cy="554.31" r="3.0"/><circle cx="432.9" cy="554.31" r="3.0"/><circle cx="435.1" cy="554.31" r="3.0"/><circle cx="631.2" cy="554.31" r="3.0"/><circle cx="654.8" cy="554.31" r="3.0"/><circle cx="673.9" cy="554.31" r="3.0"/><circle cx="664.9" cy="546.52" r="3.0"/></g>
<g fill="#FF0000" fill-opacity="0.5"><circle cx="411" cy="593.3" r="2.6"/><circle cx="415" cy="593.3" r="2.6"/><circle cx="563.7" cy="593.3" r="2.6"/><circle cx="584" cy="593.3" r="2.6"/><circle cx="599.7" cy="593.3" r="2.6"/><circle cx="627.7" cy="593.3" r="2.6"/><circle cx="638.5" cy="593.3" r="2.6"/><circle cx="648.7" cy="593.3" r="2.6"/><circle cx="662.6" cy="593.3" r="2.6"/><circle cx="409.8" cy="585.5" r="2.6"/><circle cx="450.3" cy="585.5" r="2.6"/><circle cx="627.7" cy="585.5" r="2.6"/><circle cx="638.5" cy="585.5" r="2.6"/><circle cx="648.7" cy="585.5" r="2.6"/><circle cx="662.6" cy="585.5" r="2.6"/><circle cx="414" cy="577.71" r="2.6"/><circle cx="450.3" cy="577.71" r="2.6"/><circle cx="519.4" cy="577.71" r="2.6"/><circle cx="546.9" cy="577.71" r="2.6"/><circle cx="600.8" cy="577.71" r="2.6"/><circle cx="627.7" cy="577.71" r="2.6"/><circle cx="648.7" cy="577.71" r="2.6"/><circle cx="662.6" cy="577.71" r="2.6"/></g>
<rect x="388.9" y="359.4" width="292.5" height="241.8" fill="none" stroke="#262626" stroke-width="1"/>
<line x1="393.4" y1="601.2" x2="393.4" y2="604.7" stroke="#262626" stroke-width="0.9"/>
<text x="393.4" y="613.3" font-size="9.0" text-anchor="middle" font-family='"Liberation Sans", sans-serif' fill="#000" fill-opacity="0.82" textLength="15.5" lengthAdjust="spacingAndGlyphs">20%</text>
<line x1="440.62" y1="601.2" x2="440.62" y2="604.7" stroke="#262626" stroke-width="0.9"/>
<text x="440.62" y="613.3" font-size="9.0" text-anchor="middle" font-family='"Liberation Sans", sans-serif' fill="#000" fill-opacity="0.82" textLength="15.5" lengthAdjust="spacingAndGlyphs">30%</text>
<line x1="487.83" y1="601.2" x2="487.83" y2="604.7" stroke="#262626" stroke-width="0.9"/>
<text x="487.83" y="613.3" font-size="9.0" text-anchor="middle" font-family='"Liberation Sans", sans-serif' fill="#000" fill-opacity="0.82" textLength="15.5" lengthAdjust="spacingAndGlyphs">40%</text>
<line x1="535.05" y1="601.2" x2="535.05" y2="604.7" stroke="#262626" stroke-width="0.9"/>
<text x="535.05" y="613.3" font-size="9.0" text-anchor="middle" font-family='"Liberation Sans", sans-serif' fill="#000" fill-opacity="0.82" textLength="15.5" lengthAdjust="spacingAndGlyphs">50%</text>
<line x1="582.27" y1="601.2" x2="582.27" y2="604.7" stroke="#262626" stroke-width="0.9"/>
<text x="582.27" y="613.3" font-size="9.0" text-anchor="middle" font-family='"Liberation Sans", sans-serif' fill="#000" fill-opacity="0.82" textLength="15.5" lengthAdjust="spacingAndGlyphs">60%</text>
<line x1="629.48" y1="601.2" x2="629.48" y2="604.7" stroke="#262626" stroke-width="0.9"/>
<text x="629.48" y="613.3" font-size="9.0" text-anchor="middle" font-family='"Liberation Sans", sans-serif' fill="#000" fill-opacity="0.82" textLength="15.5" lengthAdjust="spacingAndGlyphs">70%</text>
<line x1="676.7" y1="601.2" x2="676.7" y2="604.7" stroke="#262626" stroke-width="0.9"/>
<text x="676.7" y="613.3" font-size="9.0" text-anchor="middle" font-family='"Liberation Sans", sans-serif' fill="#000" fill-opacity="0.82" textLength="15.5" lengthAdjust="spacingAndGlyphs">80%</text>
<line x1="385.4" y1="593.3" x2="388.9" y2="593.3" stroke="#262626" stroke-width="0.9"/>
<text x="382.5" y="596.4" font-size="8.8" text-anchor="end" font-family='"Liberation Serif", serif' fill="#000" fill-opacity="0.82" textLength="4.2" lengthAdjust="spacingAndGlyphs">0</text>
<line x1="385.4" y1="554.31" x2="388.9" y2="554.31" stroke="#262626" stroke-width="0.9"/>
<text x="382.5" y="557.41" font-size="8.8" text-anchor="end" font-family='"Liberation Serif", serif' fill="#000" fill-opacity="0.82" textLength="4.2" lengthAdjust="spacingAndGlyphs">5</text>
<line x1="385.4" y1="515.33" x2="388.9" y2="515.33" stroke="#262626" stroke-width="0.9"/>
<text x="382.5" y="518.43" font-size="8.8" text-anchor="end" font-family='"Liberation Serif", serif' fill="#000" fill-opacity="0.82" textLength="8.3" lengthAdjust="spacingAndGlyphs">10</text>
<line x1="385.4" y1="476.34" x2="388.9" y2="476.34" stroke="#262626" stroke-width="0.9"/>
<text x="382.5" y="479.44" font-size="8.8" text-anchor="end" font-family='"Liberation Serif", serif' fill="#000" fill-opacity="0.82" textLength="8.3" lengthAdjust="spacingAndGlyphs">15</text>
<line x1="385.4" y1="437.36" x2="388.9" y2="437.36" stroke="#262626" stroke-width="0.9"/>
<text x="382.5" y="440.46" font-size="8.8" text-anchor="end" font-family='"Liberation Serif", serif' fill="#000" fill-opacity="0.82" textLength="8.3" lengthAdjust="spacingAndGlyphs">20</text>
<line x1="385.4" y1="398.38" x2="388.9" y2="398.38" stroke="#262626" stroke-width="0.9"/>
<text x="382.5" y="401.48" font-size="8.8" text-anchor="end" font-family='"Liberation Serif", serif' fill="#000" fill-opacity="0.82" textLength="8.3" lengthAdjust="spacingAndGlyphs">25</text>
<line x1="385.4" y1="359.39" x2="388.9" y2="359.39" stroke="#262626" stroke-width="0.9"/>
<text x="382.5" y="362.49" font-size="8.8" text-anchor="end" font-family='"Liberation Serif", serif' fill="#000" fill-opacity="0.82" textLength="8.3" lengthAdjust="spacingAndGlyphs">30</text>
<text x="535.35" y="625.9" font-size="8.6" text-anchor="middle" font-family='"Liberation Sans", sans-serif' fill="#000" fill-opacity="0.82" textLength="121" lengthAdjust="spacingAndGlyphs">past attack rate (before t = 450)</text>
<text transform="translate(367.8,480.3) rotate(-90)" x="0" y="0" font-size="8.6" text-anchor="middle" font-family='"Liberation Sans", sans-serif' fill="#000" fill-opacity="0.82" textLength="128" lengthAdjust="spacingAndGlyphs">near-future deaths (t = 450 to 650)</text>
<text x="346.07" y="360.3" font-size="15.5" font-family='"Liberation Sans", sans-serif' fill="#000" fill-opacity="0.85">(</text>
<text x="354.06" y="361" font-size="15.5" font-family='"Liberation Sans", sans-serif' fill="#000" fill-opacity="0.85">d</text>
<text x="365.35" y="360.3" font-size="15.5" font-family='"Liberation Sans", sans-serif' fill="#000" fill-opacity="0.85">)</text>
<rect x="396.5" y="363.7" width="124.7" height="66.3" rx="2" fill="#fff" fill-opacity="0.8" stroke="#d0d0d0" stroke-width="0.9"/>
<text x="458.85" y="374.3" font-size="8.4" text-anchor="middle" font-family='"Liberation Sans", sans-serif' fill="#000" fill-opacity="0.82" textLength="58.5" lengthAdjust="spacingAndGlyphs">older population</text>
<circle cx="408.4" cy="384.2" r="4.1" fill="#fff" stroke="#FA8072" stroke-width="0.9"/>
<text x="424.1" y="387.2" font-size="8.6" text-anchor="start" font-family='"Liberation Sans", sans-serif' fill="#000" fill-opacity="0.82" textLength="52.5" lengthAdjust="spacingAndGlyphs">no vaccination</text>
<circle cx="408.4" cy="397.05" r="4.6" fill="#FA8072"/>
<text x="424.1" y="400.05" font-size="8.6" text-anchor="start" font-family='"Liberation Sans", sans-serif' fill="#000" fill-opacity="0.82" textLength="94" lengthAdjust="spacingAndGlyphs">20% vaccination coverage</text>
<circle cx="408.4" cy="409.9" r="4.6" fill="#FF0000"/>
<text x="424.1" y="412.9" font-size="8.6" text-anchor="start" font-family='"Liberation Sans", sans-serif' fill="#000" fill-opacity="0.82" textLength="94" lengthAdjust="spacingAndGlyphs">50% vaccination coverage</text>
<circle cx="408.4" cy="422.75" r="4.6" fill="#B22222"/>
<text x="424.1" y="425.75" font-size="8.6" text-anchor="start" font-family='"Liberation Sans", sans-serif' fill="#000" fill-opacity="0.82" textLength="94" lengthAdjust="spacingAndGlyphs">80% vaccination coverage</text>
</svg>
</body></html>
